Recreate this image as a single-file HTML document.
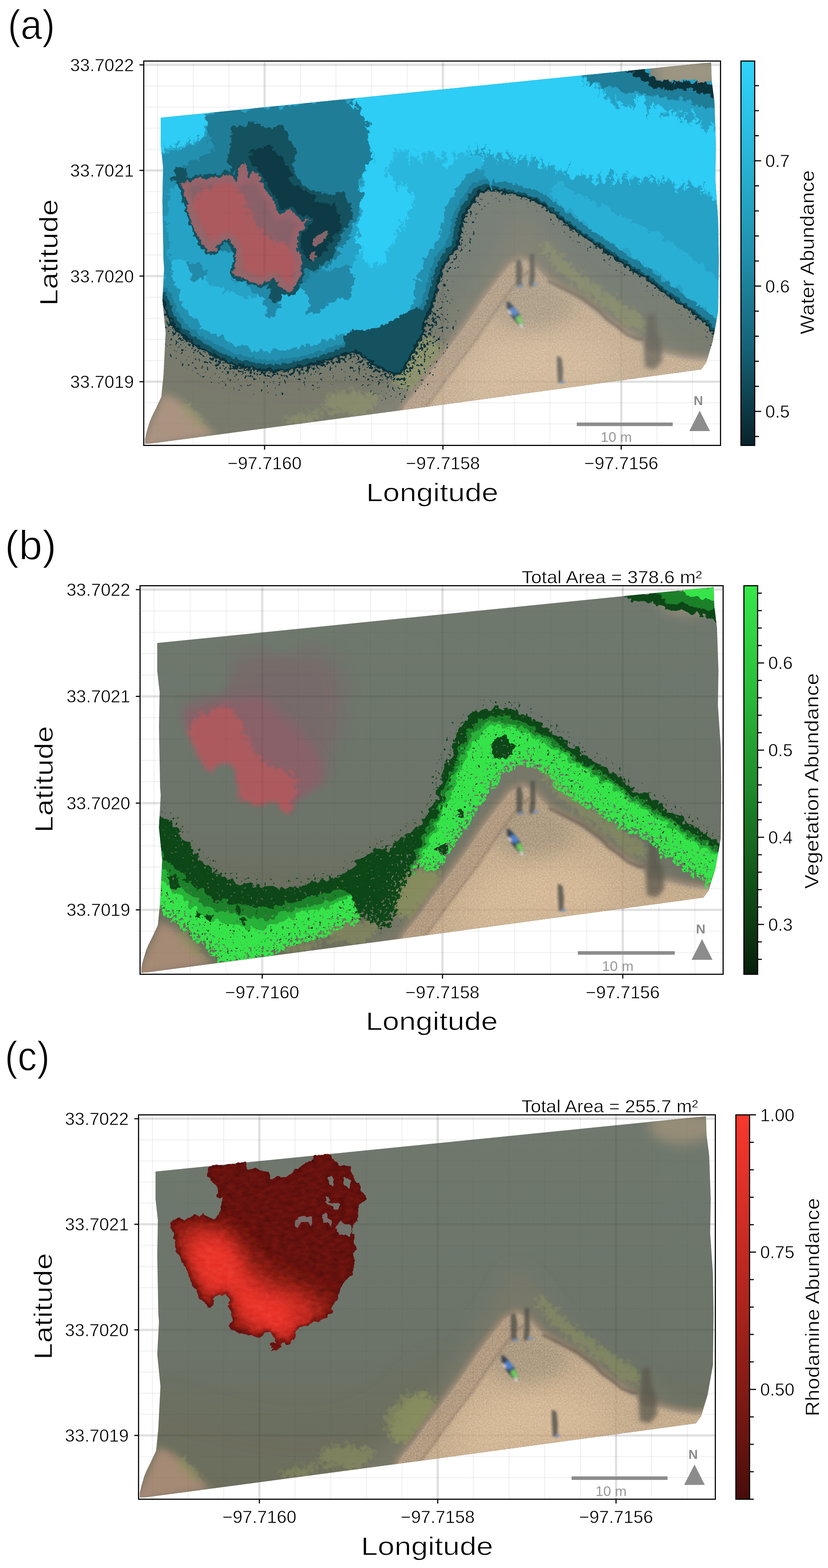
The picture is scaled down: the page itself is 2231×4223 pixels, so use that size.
<!DOCTYPE html>
<html lang="en"><head><meta charset="utf-8"><title>Abundance maps</title>
<style>html,body{margin:0;padding:0;background:#fff}svg{display:block}text{font-family:'Liberation Sans', 'DejaVu Sans', sans-serif}</style></head><body>
<svg width="2231" height="4223" viewBox="0 0 2231 4223" role="img" aria-label="Water, vegetation and rhodamine abundance maps">
<defs>
<clipPath id="axclip"><rect x="0" y="0" width="1554.1" height="1035.2"/></clipPath>
<clipPath id="sandclip"><path d="M1018.4 533.5L1041.9 542.4L1065.4 565.9L1088.9 589.4L1124.2 612.9L1159.4 630.5L1194.7 654L1224.1 677.5L1253.5 701.1L1288.7 724.6L1324 748.1L1347.5 759.8L1359.3 780.4L1406.3 786.3L1453.3 798L1500.4 803.9L1535.6 801L1535.6 865.6L712.7 983.2L683 977.9L705.1 926.4L741.8 882.3L778.5 830.9L822.6 772.1L866.7 713.3L910.8 647.2L954.9 588.4L987.9 548L989 549.4L1003.7 539.4Z"/></clipPath>
<clipPath id="foot"><path d="M45.7 152.6L1528.7 3.6L1530.4 53.3L1537.7 110.6L1541.7 226.3L1540.2 318.6L1547.7 428.2L1549.4 535.6L1547.7 673.6L1533.3 754.4L1515.7 811.6L1501.7 830.6L777.7 929.2L327.2 989.2L21.7 1029.6L3.4 1031L3.4 1018L8.5 997L16 972L22 957.6L33 935.6L47.5 904.3L53.3 846.6L59 731.3L50.4 644.6L55 558.3L53.3 535.6L50.4 376.3L52.1 284L45.7 226.3Z"/></clipPath>
<filter id="b3" x="-50%" y="-50%" width="200%" height="200%"><feGaussianBlur stdDeviation="3"/></filter>
<filter id="b6" x="-50%" y="-50%" width="200%" height="200%"><feGaussianBlur stdDeviation="6"/></filter>
<filter id="b10" x="-50%" y="-50%" width="200%" height="200%"><feGaussianBlur stdDeviation="10"/></filter>
<filter id="b16" x="-50%" y="-50%" width="200%" height="200%"><feGaussianBlur stdDeviation="16"/></filter>
<filter id="b25" x="-50%" y="-50%" width="200%" height="200%"><feGaussianBlur stdDeviation="25"/></filter>
<filter id="b40" x="-50%" y="-50%" width="200%" height="200%"><feGaussianBlur stdDeviation="40"/></filter>
<filter id="b60" x="-50%" y="-50%" width="200%" height="200%"><feGaussianBlur stdDeviation="60"/></filter>
<filter id="speckA" filterUnits="userSpaceOnUse" x="0" y="0" width="1554" height="1035" color-interpolation-filters="sRGB"><feTurbulence type="fractalNoise" baseFrequency="0.13" numOctaves="3" seed="4" result="t"/><feColorMatrix in="t" type="matrix" values="0 0 0 0 0 0 0 0 0 0 0 0 0 0 0 1 0 0 0 0" result="n"/><feComposite in="n" in2="SourceGraphic" operator="arithmetic" k1="0" k2="40" k3="14" k4="-35.3" result="m"/><feComponentTransfer in="SourceAlpha" result="sa"><feFuncA type="linear" slope="60" intercept="0"/></feComponentTransfer><feFlood flood-color="#0b333c" result="fl"/><feComposite in="fl" in2="m" operator="in" result="fm"/><feComposite in="fm" in2="sa" operator="in"/></filter>
<filter id="speckK" filterUnits="userSpaceOnUse" x="0" y="0" width="1554" height="1035" color-interpolation-filters="sRGB"><feTurbulence type="fractalNoise" baseFrequency="0.13" numOctaves="3" seed="8" result="t"/><feColorMatrix in="t" type="matrix" values="0 0 0 0 0 0 0 0 0 0 0 0 0 0 0 1 0 0 0 0" result="n"/><feComposite in="n" in2="SourceGraphic" operator="arithmetic" k1="0" k2="40" k3="14" k4="-35.3" result="m"/><feComponentTransfer in="SourceAlpha" result="sa"><feFuncA type="linear" slope="60" intercept="0"/></feComponentTransfer><feFlood flood-color="#000" result="fl"/><feComposite in="fl" in2="m" operator="in" result="fm"/><feComposite in="fm" in2="sa" operator="in"/></filter>
<filter id="speckG" filterUnits="userSpaceOnUse" x="0" y="0" width="1554" height="1035" color-interpolation-filters="sRGB"><feTurbulence type="fractalNoise" baseFrequency="0.13" numOctaves="3" seed="12" result="t"/><feColorMatrix in="t" type="matrix" values="0 0 0 0 0 0 0 0 0 0 0 0 0 0 0 1 0 0 0 0" result="n"/><feComposite in="n" in2="SourceGraphic" operator="arithmetic" k1="0" k2="40" k3="14" k4="-35.3" result="m"/><feComponentTransfer in="SourceAlpha" result="sa"><feFuncA type="linear" slope="60" intercept="0"/></feComponentTransfer><feFlood flood-color="#0d4717" result="fl"/><feComposite in="fl" in2="m" operator="in" result="fm"/><feComposite in="fm" in2="sa" operator="in"/></filter>
<filter id="rag" filterUnits="userSpaceOnUse" x="0" y="0" width="1554" height="1035" color-interpolation-filters="sRGB"><feTurbulence type="fractalNoise" baseFrequency="0.035" numOctaves="3" seed="3" result="n"/><feDisplacementMap in="SourceGraphic" in2="n" scale="36" xChannelSelector="R" yChannelSelector="G"/></filter>
<filter id="ragf" filterUnits="userSpaceOnUse" x="0" y="0" width="1554" height="1035" color-interpolation-filters="sRGB"><feTurbulence type="fractalNoise" baseFrequency="0.09" numOctaves="3" seed="7" result="n"/><feDisplacementMap in="SourceGraphic" in2="n" scale="16" xChannelSelector="R" yChannelSelector="G"/></filter>
<filter id="ragb" filterUnits="userSpaceOnUse" x="0" y="0" width="1554" height="1035" color-interpolation-filters="sRGB"><feTurbulence type="fractalNoise" baseFrequency="0.05" numOctaves="3" seed="11" result="n"/><feDisplacementMap in="SourceGraphic" in2="n" scale="30" xChannelSelector="R" yChannelSelector="G"/></filter>
<filter id="ragc" x="-15%" y="-15%" width="130%" height="130%" color-interpolation-filters="sRGB"><feTurbulence type="fractalNoise" baseFrequency="0.06" numOctaves="3" seed="17" result="n"/><feDisplacementMap in="SourceGraphic" in2="n" scale="14" xChannelSelector="R" yChannelSelector="G" result="d"/><feTurbulence type="fractalNoise" baseFrequency="0.05 0.09" numOctaves="3" seed="9" result="g0"/><feColorMatrix in="g0" type="matrix" values="1 0 0 0 0 1 0 0 0 0 1 0 0 0 0 0 0 0 0 1" result="g1"/><feComponentTransfer in="g1" result="g2"><feFuncR type="linear" slope="0.24" intercept="0.38"/><feFuncG type="linear" slope="0.24" intercept="0.38"/><feFuncB type="linear" slope="0.24" intercept="0.38"/></feComponentTransfer><feBlend in="g2" in2="d" mode="overlay" result="g3"/><feComposite in="g3" in2="d" operator="in"/></filter>
<filter id="ragveg" x="-30%" y="-30%" width="160%" height="160%" color-interpolation-filters="sRGB"><feTurbulence type="fractalNoise" baseFrequency="0.07" numOctaves="3" seed="23" result="n"/><feDisplacementMap in="SourceGraphic" in2="n" scale="45" xChannelSelector="R" yChannelSelector="G"/></filter>
<filter id="sandgrain" x="-3%" y="-3%" width="106%" height="106%" color-interpolation-filters="sRGB"><feOffset in="SourceGraphic" dx="0" dy="0" result="d"/><feTurbulence type="fractalNoise" baseFrequency="0.25" numOctaves="2" seed="31" result="g0"/><feColorMatrix in="g0" type="matrix" values="1 0 0 0 0 1 0 0 0 0 1 0 0 0 0 0 0 0 0 1" result="g1"/><feComponentTransfer in="g1" result="g2"><feFuncR type="linear" slope="0.3" intercept="0.35"/><feFuncG type="linear" slope="0.3" intercept="0.35"/><feFuncB type="linear" slope="0.3" intercept="0.35"/></feComponentTransfer><feBlend in="g2" in2="d" mode="overlay" result="g3"/><feComposite in="g3" in2="d" operator="in"/></filter>
<linearGradient id="waterg" x1="0" y1="0" x2="0" y2="1"><stop offset="0" stop-color="#485346"/><stop offset="0.55" stop-color="#444e41"/><stop offset="1" stop-color="#41432a"/></linearGradient>
<clipPath id="landclip"><path d="M32.7 625.6L49.7 649.6L59.7 683.6L74.7 710.6L97.7 737.6L127.7 760.6L158.7 779.6L192.7 798.6L232.7 818.6L270.7 826.6L308.7 834.6L347.7 837.6L385.7 834.6L423.7 826.6L461.7 818.6L499.7 807.6L538.7 792.6L568.7 785.6L602.7 807.6L632.7 827.6L662.7 843.6L684.7 847.6L702.7 830.6L717.7 805.6L732.7 775.6L752.7 740.6L759.7 701.6L777.7 665.6L789.7 625.6L800.7 579.6L812.7 548.6L827.7 525.6L846.7 502.6L854.7 472.6L858.7 441.6L869.7 407.6L888.7 380.6L904.7 355.6L934.7 348.6L972.7 355.6L1010.7 363.6L1049.7 376.6L1072.7 388.6L1100.7 410.6L1147.7 447.6L1182.7 473.6L1217.7 497.6L1253.7 521.6L1288.7 545.6L1323.7 568.6L1359.7 592.6L1394.7 620.6L1429.7 645.6L1464.7 669.6L1494.7 693.6L1515.7 708.6L1538.7 742.6L1557.7 760.6L1580 770L1580 1100L-20 1100L-20 640Z"/><path d="M1352.7 -4.4L1359.7 18.6L1365.7 35.6L1388.7 50.6L1423.7 53.6L1469.7 50.6L1504.7 58.6L1527.7 53.6L1542.7 50.6L1542.7 -4.4Z"/></clipPath><filter id="streak" filterUnits="userSpaceOnUse" x="0" y="0" width="1554" height="1035" color-interpolation-filters="sRGB"><feTurbulence type="fractalNoise" baseFrequency="0.12 0.004" numOctaves="3" seed="14" result="n"/><feColorMatrix in="n" type="matrix" values="0 0 0 0 0.5 0 1 0 0 0 0 0 1 0 0 0 0 0 0 1" result="n2"/><feDisplacementMap in="SourceGraphic" in2="n2" scale="90" xChannelSelector="R" yChannelSelector="G"/></filter><mask id="holemask_a" maskUnits="userSpaceOnUse" x="0" y="0" width="1554.1" height="1035.2"><path d="M32.7 625.6L49.7 649.6L59.7 683.6L74.7 710.6L97.7 737.6L127.7 760.6L158.7 779.6L192.7 798.6L232.7 818.6L270.7 826.6L308.7 834.6L347.7 837.6L385.7 834.6L423.7 826.6L461.7 818.6L499.7 807.6L538.7 792.6L568.7 785.6L602.7 807.6L632.7 827.6L662.7 843.6L684.7 847.6L702.7 830.6L717.7 805.6L732.7 775.6L752.7 740.6L759.7 701.6L777.7 665.6L789.7 625.6L800.7 579.6L812.7 548.6L827.7 525.6L846.7 502.6L854.7 472.6L858.7 441.6L869.7 407.6L888.7 380.6L904.7 355.6L934.7 348.6L972.7 355.6L1010.7 363.6L1049.7 376.6L1072.7 388.6L1100.7 410.6L1147.7 447.6L1182.7 473.6L1217.7 497.6L1253.7 521.6L1288.7 545.6L1323.7 568.6L1359.7 592.6L1394.7 620.6L1429.7 645.6L1464.7 669.6L1494.7 693.6L1515.7 708.6L1538.7 742.6L1557.7 760.6L1572.7 760.6L1572.7 -14.4L-7.3 -14.4L-7.3 625.6Z" fill="#fff"/><path d="M99.6 327.6L133.9 320L147.3 314.3L166.4 316.2L185.5 312.4L204.6 314.3L219.9 304.7L231.4 306.6L240.9 314.3L252.4 323.8L254.3 287.5L261.9 283.7L271.5 270.3L277.2 283.7L281 314.3L296.3 289.4L300.2 306.6L309.7 304.7L313.5 321.9L325 329.6L326.9 344.8L334.5 356.3L346 367.8L353.6 379.2L357.5 398.3L365.1 413.6L376.6 409.8L391.8 400.2L401.4 402.2L409 417.4L418.6 421.3L430.1 432.7L437.7 425.1L449.2 427L433.9 440.4L430.1 455.6L422.4 458.5L414.8 473.8L414.8 492.9L411 512L418.6 515.8L426.2 523.5L426.2 542.6L422.4 557.9L424.3 573.1L418.6 588.4L411 603.7L403.3 619L391.8 624.7L380.4 619L368.9 607.5L357.5 596.1L349.8 586.5L342.2 588.4L326.9 596.1L313.5 601.8L296.3 596.1L277.2 588.4L258.1 584.6L244.7 577L240.9 565.5L246.7 550.2L248.6 531.1L248.6 508.2L240.9 496.7L231.4 485.3L223.7 477.6L212.3 485.3L198.9 492.9L197 510.1L185.5 513.9L174.1 512L164.5 502.5L155 489.1L145.4 470L137.8 454.7L130.1 435.6L124.4 417.4L118.7 398.3L114.8 375.4L107.2 352.5Z" fill="#000"/><path d="M1352.7 -4.4L1359.7 18.6L1365.7 35.6L1388.7 50.6L1423.7 53.6L1469.7 50.6L1504.7 58.6L1527.7 53.6L1542.7 50.6L1542.7 -4.4Z" fill="#000"/><path d="M454.9 483.4L468.3 471.9L485.5 458.5L496.9 464.3L487.4 481.4L472.1 496.7L458.7 500.6Z" fill="#000"/><path d="M447.2 517.7L460.6 512L466.4 527.3L453 538.8L445.3 531.1Z" fill="#000"/></mask>
<mask id="bmask" maskUnits="userSpaceOnUse" x="0" y="0" width="1554.1" height="1035.2"><rect width="1554.1" height="1035.2" fill="#fff"/><g filter="url(#speckK)" stroke="#000" stroke-linejoin="round"><path d="M34.5 599.5L51.9 611.1L75.2 622.7L104.3 657.6L127.5 692.5L156.6 721.6L185.7 750.7L220.6 773.9L261.3 791.4L302 800.1L348.5 803L395 805.9L441.5 797.2L488 785.5L534.6 773.9L569.4 744.8L592.7 727.4L627.6 698.3L656.7 704.1L685.7 686.7L714.8 663.4L749.7 634.4L767.1 599.5L791 576L799.2 522.5L810.8 487.6L828.2 452.8L839.9 412.1L851.5 377.2L880.6 342.3L915.5 327.7L962 324.8L1008.5 336.5L1043.4 353.9L1078.3 377.2L1113.1 400.4L1148 423.7L1182.9 452.8L1217.8 470.2L1252.7 493.5L1287.6 516.7L1322.5 545.8L1357.4 563.2L1392.3 586.5L1427.1 609.8L1462 633L1496.9 656.3L1526 673.7L1566.7 697L1566.7 784.2L1514.4 801.6L1485.3 784.2L1450.4 760.9L1421.3 737.7L1392.3 720.2L1369 691.2L1345.7 673.7L1310.8 662.1L1276 644.6L1241.1 621.4L1206.2 598.1L1171.3 580.7L1142.2 563.2L1113.1 540L1089.9 510.9L1072.4 493.5L1043.4 481.8L1014.3 478.9L985.2 490.6L962 510.9L938.7 545.8L915.5 574.9L892.2 609.8L868.9 644.6L845.7 679.5L822.4 714.4L799.2 749.3L791 760.9L767.1 756.5L738.1 750.7L714.8 779.7L697.4 820.4L685.7 867L668.3 907.7L639.2 913.5L610.1 890.2L592.7 884.4L581.1 896L546.2 907.7L511.3 919.3L488 936.7L453.1 948.4L406.6 960L371.7 977.4L348.5 994.9L220.6 1018.1L185.7 977.4L150.8 948.4L115.9 919.3L81 890.2L51.9 867L34.5 855.3Z" fill="#000" fill-opacity="0.45" stroke="none"/><path d="M1566.7 784.2L1514.4 801.6L1485.3 784.2L1450.4 760.9L1421.3 737.7L1392.3 720.2L1369 691.2L1345.7 673.7L1310.8 662.1L1276 644.6L1241.1 621.4L1206.2 598.1L1171.3 580.7L1142.2 563.2L1113.1 540L1089.9 510.9L1072.4 493.5L1043.4 481.8L1014.3 478.9L985.2 490.6L962 510.9L938.7 545.8L915.5 574.9L892.2 609.8L868.9 644.6L845.7 679.5L822.4 714.4L799.2 749.3L791 760.9L767.1 756.5L738.1 750.7L714.8 779.7L697.4 820.4L685.7 867L668.3 907.7L639.2 913.5L610.1 890.2L592.7 884.4L581.1 896L546.2 907.7L511.3 919.3L488 936.7L453.1 948.4L406.6 960L371.7 977.4L348.5 994.9L220.6 1018.1L185.7 977.4L150.8 948.4L115.9 919.3L81 890.2L51.9 867L34.5 855.3" fill="none" stroke-opacity="0.39" stroke-width="90"/><path d="M1566.7 784.2L1514.4 801.6L1485.3 784.2L1450.4 760.9L1421.3 737.7L1392.3 720.2L1369 691.2L1345.7 673.7L1310.8 662.1L1276 644.6L1241.1 621.4L1206.2 598.1L1171.3 580.7L1142.2 563.2L1113.1 540L1089.9 510.9L1072.4 493.5L1043.4 481.8L1014.3 478.9L985.2 490.6L962 510.9L938.7 545.8L915.5 574.9L892.2 609.8L868.9 644.6L845.7 679.5L822.4 714.4L799.2 749.3L791 760.9L767.1 756.5L738.1 750.7L714.8 779.7L697.4 820.4L685.7 867L668.3 907.7L639.2 913.5L610.1 890.2L592.7 884.4L581.1 896L546.2 907.7L511.3 919.3L488 936.7L453.1 948.4L406.6 960L371.7 977.4L348.5 994.9L220.6 1018.1L185.7 977.4L150.8 948.4L115.9 919.3L81 890.2L51.9 867L34.5 855.3" fill="none" stroke-width="34"/></g></mask>
<clipPath id="plumeclip"><path d="M105.8 377.4L99.6 365.4L97.6 344.9L93.4 320.2L85.2 303.7L89.3 285.2L107.8 279L124.3 281.1L140.8 270.8L153.1 268.7L165.5 274.9L175.7 264.6L186 279L206.6 281.1L210.7 270.8L221 262.6L225.1 242L227.2 223.5L210.7 219.4L212.8 200.8L206.6 190.6L194.3 176.2L184 163.8L188.1 139.1L288.9 128.8L295.1 145.3L313.6 139.1L330 149.4L350.6 153.5L356.8 172L379.4 165.9L395.9 170L420.6 147.3L437 137.1L467.9 120.6L472 110.3L498.7 106.2L519.3 106.2L523.4 118.5L535.8 124.7L539.9 135L566.6 139.1L576.9 157.6L583.1 176.2L593.4 188.5L599.5 205L613.9 223.5L605.7 235.8L595.4 242L589.3 258.4L593.4 274.9L581 291.4L579 316L581 340.7L585.1 361.3L581 373.9L581 390.3L579 410.9L576.9 427.3L566.6 439.7L556.3 452L544 468.5L539.9 485L533.7 501.4L523.4 517.9L519.3 534.3L502.8 546.7L486.4 554.9L469.9 557L453.5 567.2L432.9 575.5L420.6 587.8L418.5 608.4L408.2 618.7L395.9 620.7L385.6 614.6L381.5 626.9L367.1 633.1L354.7 639.3L363 626.9L354.7 620.7L358.8 614.6L373.2 612.5L363 596L354.7 583.7L338.3 589.9L323.9 602.2L313.6 596L293 594L280.7 585.8L260.1 583.7L245.7 575.5L243.6 563.1L253.9 550.8L249.8 530.2L241.6 513.8L245.7 497.3L235.4 482.9L218.9 482.9L202.5 493.2L202.5 509.6L192.2 519.9L179.9 509.6L167.5 497.3L155.2 476.7L142.8 452L132.5 427.3L120.2 402.7L107.8 382.1ZM421.4 283.1L437 277L465.8 274.1L467.9 283.1L465 301.6L457.6 287.2L439.1 289.3L428.8 302.9L421.4 295.5ZM494.6 270.8L504.9 264.6L509 279L519.3 283.1L521.4 301.6L509 291.4L498.7 291.4ZM527.5 305.8L544 287.2L554.3 295.5L574.9 297.5L576.9 316L566.6 328.4L548.1 324.3L539.9 318.1ZM502.8 219.4L511.1 221.4L517.3 237.9L531.7 235.8L544 239.9L539.9 258.4L527.5 256.4L519.3 246.1L509 233.8ZM511.1 174.1L519.3 161.7L527.5 176.2L523.4 192.6L513.1 190.6ZM552.2 170L570.7 174.1L570.7 200.8L562.5 194.7L552.2 184.4Z" clip-rule="evenodd"/></clipPath><mask id="plumemask" maskUnits="userSpaceOnUse" x="0" y="0" width="1554.1" height="1035.2"><path d="M105.8 377.4L99.6 365.4L97.6 344.9L93.4 320.2L85.2 303.7L89.3 285.2L107.8 279L124.3 281.1L140.8 270.8L153.1 268.7L165.5 274.9L175.7 264.6L186 279L206.6 281.1L210.7 270.8L221 262.6L225.1 242L227.2 223.5L210.7 219.4L212.8 200.8L206.6 190.6L194.3 176.2L184 163.8L188.1 139.1L288.9 128.8L295.1 145.3L313.6 139.1L330 149.4L350.6 153.5L356.8 172L379.4 165.9L395.9 170L420.6 147.3L437 137.1L467.9 120.6L472 110.3L498.7 106.2L519.3 106.2L523.4 118.5L535.8 124.7L539.9 135L566.6 139.1L576.9 157.6L583.1 176.2L593.4 188.5L599.5 205L613.9 223.5L605.7 235.8L595.4 242L589.3 258.4L593.4 274.9L581 291.4L579 316L581 340.7L585.1 361.3L581 373.9L581 390.3L579 410.9L576.9 427.3L566.6 439.7L556.3 452L544 468.5L539.9 485L533.7 501.4L523.4 517.9L519.3 534.3L502.8 546.7L486.4 554.9L469.9 557L453.5 567.2L432.9 575.5L420.6 587.8L418.5 608.4L408.2 618.7L395.9 620.7L385.6 614.6L381.5 626.9L367.1 633.1L354.7 639.3L363 626.9L354.7 620.7L358.8 614.6L373.2 612.5L363 596L354.7 583.7L338.3 589.9L323.9 602.2L313.6 596L293 594L280.7 585.8L260.1 583.7L245.7 575.5L243.6 563.1L253.9 550.8L249.8 530.2L241.6 513.8L245.7 497.3L235.4 482.9L218.9 482.9L202.5 493.2L202.5 509.6L192.2 519.9L179.9 509.6L167.5 497.3L155.2 476.7L142.8 452L132.5 427.3L120.2 402.7L107.8 382.1Z" fill="#fff" stroke="#000" stroke-width="26" stroke-linejoin="round" filter="url(#b6)"/></mask>
<g id="base"><g clip-path="url(#foot)"><rect x="0" y="0" width="1554.1" height="1035.2" fill="url(#waterg)"/><ellipse cx="1465" cy="30" rx="90" ry="48" fill="#786d51" filter="url(#b16)"/><g mask="url(#plumemask)"><path d="M127.5 334C136.2 317.5 174 306.8 191.5 293.3C208.9 279.7 221.5 268.1 232.2 252.6C242.9 237.1 239.9 212.8 255.4 200.2C271 187.6 300 179.9 325.2 177C350.4 174.1 381.4 182.8 406.6 182.8C431.8 182.8 457 171.2 476.4 177C495.8 182.8 512.3 199.3 522.9 217.7C533.6 236.1 538.4 263.2 540.4 287.5C542.3 311.7 539.4 337.9 534.6 363.1C529.7 388.3 521 416.4 511.3 438.6C501.6 460.9 490 477.4 476.4 496.8C462.8 516.2 446.4 541.4 429.9 554.9C413.4 568.5 402.8 580.1 377.6 578.2C352.4 576.3 312.6 562.7 278.7 543.3C244.8 523.9 197.3 487.1 174 461.9C150.8 436.7 146.9 413.4 139.2 392.1C131.4 370.8 118.8 350.5 127.5 334Z" fill="#563c40" opacity="0.75" filter="url(#b25)"/><path d="M115.9 334C119.8 318.5 142.1 326.2 156.6 322.4C171.1 318.5 187.6 313.6 203.1 310.7C218.6 307.8 233.2 307.8 249.6 304.9C266.1 302 287.4 293.3 302 293.3C316.5 293.3 325.2 297.2 336.9 304.9C348.5 312.7 358.2 327.2 371.7 339.8C385.3 352.4 403.7 366 418.3 380.5C432.8 395 447.3 411.5 459 427C470.6 442.5 482.2 460 488 473.5C493.8 487.1 495.8 498.7 493.8 508.4C491.9 518.1 483.2 523.9 476.4 531.7C469.6 539.4 461.9 545.2 453.1 554.9C444.4 564.6 433.8 581.1 424.1 589.8C414.4 598.5 407.6 608.2 395 607.3C382.4 606.3 365.9 589.8 348.5 584C331 578.2 305.8 578.2 290.3 572.4C274.8 566.6 263.2 559.8 255.4 549.1C247.7 538.5 253.5 516.2 243.8 508.4C234.1 500.7 210.9 509.4 197.3 502.6C183.7 495.8 173.1 482.3 162.4 467.7C151.8 453.2 141.1 437.7 133.3 415.4C125.6 393.1 112 349.5 115.9 334Z" fill="#6c3640" opacity="0.9" filter="url(#b16)"/><g filter="url(#ragveg)"><path d="M121.7 409.6C119.8 397 128.5 384.4 133.3 374.7C138.2 365 141.1 358.2 150.8 351.4C160.5 344.6 177.9 339.8 191.5 334C205.1 328.2 221.5 314.6 232.2 316.5C242.9 318.5 247.7 334.9 255.4 345.6C263.2 356.3 272.9 368.9 278.7 380.5C284.5 392.1 284.5 403.8 290.3 415.4C296.2 427 304.9 439.6 313.6 450.3C322.3 460.9 332 472.6 342.7 479.3C353.3 486.1 366.9 486.1 377.6 491C388.2 495.8 399.8 499.7 406.6 508.4C413.4 517.1 418.3 531.7 418.3 543.3C418.3 554.9 409.5 565.6 406.6 578.2C403.7 590.8 405.7 615 400.8 618.9C396 622.8 386.3 607.3 377.6 601.5C368.8 595.6 359.1 585 348.5 584C337.8 583 325.2 596.6 313.6 595.6C302 594.7 289.4 584 278.7 578.2C268 572.4 254.5 570.4 249.6 560.8C244.8 551.1 252.5 533.6 249.6 520C246.7 506.5 240.9 482.3 232.2 479.3C223.5 476.4 208 501.6 197.3 502.6C186.6 503.6 177 493.9 168.2 485.2C159.5 476.4 152.7 462.9 145 450.3C137.2 437.7 123.7 422.2 121.7 409.6Z" fill="#9a2e32" opacity="0.95" filter="url(#b6)"/></g></g><path d="M32 790.1C61.4 748.9 120.1 803.8 173 813.6C225.9 823.4 290.6 843 349.4 848.9C408.2 854.7 471.8 858.7 525.7 848.9C579.6 839.1 633.5 814.6 672.7 790.1C711.9 765.6 736.4 721.5 760.8 701.9C785.3 682.3 809.8 628.4 819.6 672.5C829.4 716.6 956.8 901.8 819.6 966.4C682.5 1031.1 128 1089.9 -3.3 1060.5C-134.6 1031.1 2.6 831.2 32 790.1Z" fill="#454632" opacity="0.9" filter="url(#b40)"/><path d="M1024.2 418.9C1038.9 422.8 1060.5 447.3 1077.1 465.9C1093.8 484.6 1106.5 510 1124.2 530.6C1141.8 551.2 1163.3 570.8 1182.9 589.4C1202.5 608 1222.1 627.6 1241.7 642.3C1261.3 657 1280.9 665.8 1300.5 677.5C1320.1 689.3 1339.7 699.1 1359.3 712.8C1378.9 726.5 1398.5 746.1 1418.1 759.8C1437.7 773.6 1457.3 787.3 1476.8 795.1C1496.4 802.9 1525.8 795.1 1535.6 806.9C1545.4 818.6 1672.8 836.3 1535.6 865.6C1398.5 895 874.3 959.7 712.7 983.2C551.1 1006.7 580.4 1016.5 565.7 1006.7C551.1 996.9 600 949.9 624.5 924.4C649 899 688.2 877.4 712.7 853.9C737.2 830.4 751.9 808.8 771.5 783.4C791.1 757.9 812.6 726.5 830.3 701.1C847.9 675.6 862.6 654 877.3 630.5C892 607 904.7 581.5 918.4 560C932.1 538.4 947.8 520.8 959.6 501.2C971.3 481.6 978.2 456.1 989 442.4C999.7 428.7 1009.5 415 1024.2 418.9Z" fill="#525240" filter="url(#b25)"/><path d="M-15.1 1048.7L32 942.9L52.5 895.9L84.9 907.6L114.3 931.2L143.7 960.5L173 989.9L196.6 1007.6L55.5 1031.1Z" fill="#8c694f" filter="url(#b10)"/><g filter="url(#ragveg)"><path d="M1083 483.6C1089.9 485.5 1099.7 500.2 1112.4 513C1125.1 525.7 1141.8 545.3 1159.4 560C1177.1 574.7 1198.6 587.4 1218.2 601.1C1237.8 614.8 1257.4 628.6 1277 642.3C1296.6 656 1323 671.7 1335.8 683.4C1348.5 695.2 1355.4 706 1353.4 712.8C1351.4 719.7 1336.8 728.5 1324 724.6C1311.3 720.7 1292.7 701.1 1277 689.3C1261.3 677.5 1245.6 665.8 1230 654C1214.3 642.3 1198.6 631.5 1182.9 618.8C1167.3 606 1150.6 591.3 1135.9 577.6C1121.2 563.9 1105.5 549.2 1094.8 536.5C1084 523.7 1073.2 510 1071.3 501.2C1069.3 492.4 1076.2 481.6 1083 483.6Z" fill="#6f7833" opacity="0.5" filter="url(#b6)"/></g><g filter="url(#ragveg)"><path d="M712.7 759.8C726.4 750 735.2 749.1 748 748.1C760.7 747.1 780.3 749.1 789.1 754C797.9 758.9 802.8 766.7 800.9 777.5C798.9 788.2 787.2 804.9 777.4 818.6C767.6 832.3 752.9 849 742.1 859.8C731.3 870.5 723.5 882.3 712.7 883.3C701.9 884.3 685.3 878.4 677.4 865.6C669.6 852.9 659.8 824.5 665.7 806.9C671.6 789.2 699 769.6 712.7 759.8Z" fill="#6f7833" opacity="0.5" filter="url(#b6)"/></g><g filter="url(#ragveg)"><path d="M684.4 848.9C684.4 832.2 693.2 804.8 702.1 790.1C710.9 775.4 723.6 766.6 737.3 760.7C751 754.8 774.5 749.9 784.4 754.8C794.3 759.7 800.6 776.4 796.7 790.1C792.8 803.8 772.7 821.4 760.8 837.1C749 852.8 735.4 875.3 725.6 884.1C715.8 892.9 708.9 895.9 702.1 890C695.2 884.1 684.4 865.5 684.4 848.9Z" fill="#6f7833" opacity="0.5" filter="url(#b6)"/></g><g filter="url(#ragveg)"><path d="M496.3 901.8C504.2 893.9 522.8 891.5 537.5 890C552.2 888.5 568.8 891 584.5 892.9C600.2 894.9 625.6 894.4 631.5 901.8C637.4 909.1 629.6 928.2 619.8 937C610 945.8 588.4 952.7 572.7 954.7C557.1 956.6 539.4 951.7 525.7 948.8C512 945.8 495.4 944.9 490.5 937C485.6 929.2 488.5 909.6 496.3 901.8Z" fill="#6f7833" opacity="0.5" filter="url(#b6)"/></g><g filter="url(#ragveg)"><path d="M372.9 960.5C372.9 956.6 396.4 956.6 408.2 954.7C419.9 952.7 431.7 950.7 443.4 948.8C455.2 946.8 474.8 940 478.7 942.9C482.6 945.8 478.7 960.5 466.9 966.4C455.2 972.3 423.8 979.2 408.2 978.2C392.5 977.2 372.9 964.5 372.9 960.5Z" fill="#6f7833" opacity="0.5" filter="url(#b6)"/></g><g filter="url(#ragveg)"><path d="M96.6 919.4C98.6 915.5 111.3 919.4 120.1 925.3C129 931.2 140.7 944.9 149.5 954.7C158.3 964.5 171.1 977.2 173 984.1C175 990.9 168.1 997.8 161.3 995.8C154.4 993.9 140.7 980.1 131.9 972.3C123.1 964.5 114.3 957.6 108.4 948.8C102.5 940 94.7 923.3 96.6 919.4Z" fill="#6f7833" opacity="0.5" filter="url(#b6)"/></g><path d="M1018.4 533.5L1041.9 542.4L1065.4 565.9L1088.9 589.4L1124.2 612.9L1159.4 630.5L1194.7 654L1224.1 677.5L1253.5 701.1L1288.7 724.6L1324 748.1L1347.5 759.8L1359.3 780.4L1406.3 786.3L1453.3 798L1500.4 803.9L1535.6 801L1535.6 865.6L712.7 983.2L683 977.9L705.1 926.4L741.8 882.3L778.5 830.9L822.6 772.1L866.7 713.3L910.8 647.2L954.9 588.4L987.9 548L989 549.4L1003.7 539.4Z" fill="#766143" stroke="#766143" stroke-width="24" stroke-linejoin="round" filter="url(#b6)"/><g filter="url(#sandgrain)"><path d="M1018.4 533.5L1041.9 542.4L1065.4 565.9L1088.9 589.4L1124.2 612.9L1159.4 630.5L1194.7 654L1224.1 677.5L1253.5 701.1L1288.7 724.6L1324 748.1L1347.5 759.8L1359.3 780.4L1406.3 786.3L1453.3 798L1500.4 803.9L1535.6 801L1535.6 865.6L712.7 983.2L683 977.9L705.1 926.4L741.8 882.3L778.5 830.9L822.6 772.1L866.7 713.3L910.8 647.2L954.9 588.4L987.9 548L989 549.4L1003.7 539.4Z" fill="#b6976f" filter="url(#b6)"/><g clip-path="url(#sandclip)"><path d="M947.8 759.8C982.1 740.2 1026.2 726.5 1065.4 724.6C1104.6 722.6 1148.7 736.3 1182.9 748.1C1217.2 759.8 1261.3 775.5 1271.1 795.1C1280.9 814.7 1276 848 1241.7 865.6C1207.4 883.3 1124.2 891.1 1065.4 900.9C1006.6 910.7 923.3 934.2 889 924.4C854.8 914.6 849.9 869.6 859.7 842.1C869.4 814.7 913.5 779.4 947.8 759.8Z" fill="#caa77e" filter="url(#b40)"/><path d="M1018.4 533.5C1031.1 536.3 1047.7 552.6 1065.4 565.9C1083 579.1 1106.5 598.2 1124.2 612.9C1141.8 627.6 1171.2 639.3 1171.2 654C1171.2 668.7 1145.7 689.3 1124.2 701.1C1102.6 712.8 1068.3 724.6 1041.9 724.6C1015.4 724.6 983.1 713.8 965.5 701.1C947.8 688.3 937 666.8 936.1 648.2C935.1 629.5 950.8 605.8 959.6 589.4C968.4 572.9 979.2 558.7 989 549.4C998.8 540.1 1005.6 530.8 1018.4 533.5Z" fill="#927e5f" opacity="0.85" filter="url(#b25)"/></g><g clip-path="url(#sandclip)"><path d="M683 977.9L705.1 926.4L741.8 882.3L778.5 830.9L822.6 772.1L866.7 713.3L910.8 647.2L954.9 588.4L987.9 548L989 549.4L1003.7 539.4" fill="none" stroke="#9e8161" stroke-width="84" stroke-linejoin="round" filter="url(#b6)"/><path d="M683 977.9L705.1 926.4L741.8 882.3L778.5 830.9L822.6 772.1L866.7 713.3L910.8 647.2L954.9 588.4L987.9 548L989 549.4L1003.7 539.4" fill="none" stroke="#765c43" stroke-width="6" stroke-linejoin="round" transform="translate(36 26)" filter="url(#b3)" opacity="0.8"/></g></g><path d="M1088.9 592.3L1124.2 609.9L1147.7 621.7L1177.1 636.4L1206.5 657L1230 674.6L1247.6 695.2L1277 715.8L1300.5 736.3L1329.9 748.1L1344.6 748.1" fill="none" stroke="#402f1a" stroke-width="7" stroke-linejoin="round" opacity="0.7" filter="url(#b3)"/><path d="M1356.3 683.4L1376.9 680.5L1382.8 724.6L1394.6 754L1397.5 806.9L1376.9 830.4L1350.5 824.5L1347.5 771.6L1353.4 736.3Z" fill="#2d2b1f" opacity="0.75" filter="url(#b6)"/><path d="M1005.4 539.4L1013.7 535.3L1018.4 560L1015.4 589.4L1018.4 604.1L1006.6 605.8L1004.8 571.7Z" fill="#25251d" stroke="#25251d" stroke-width="4" stroke-linejoin="round" opacity="0.85" filter="url(#b3)"/><path d="M1041.9 521.8L1050.1 521.8L1052.5 571.7L1048.9 604.1L1039.5 605.8L1041.9 571.7Z" fill="#25251d" stroke="#25251d" stroke-width="4" stroke-linejoin="round" opacity="0.85" filter="url(#b3)"/><path d="M1115.3 796.3L1124.2 801L1127.7 830.4L1126.5 862.7L1118.3 864.5L1115.9 830.4Z" fill="#25251d" stroke="#25251d" stroke-width="4" stroke-linejoin="round" opacity="0.85" filter="url(#b3)"/><g filter="url(#b3)"><path d="M977.4 645.6L985.6 649.7L996.2 660.3L1005.6 672L1013.8 683.8L1019.7 697.9L1023.2 709.6L1022.6 719.1L1017.3 719.6L1011.5 712L1003.2 702.6L993.8 692L985.6 681.4L979.7 670.9L978 657.9Z" fill="#020f1a"/><path d="M1003.2 690.8L1012.6 686.1L1018.5 696.7L1022.6 709.6L1019.7 712L1012.6 707.3L1006.8 700.2Z" fill="#48c333"/><path d="M988 666.2L996.2 663.8L1004.4 670.9L1007.9 679.1L1003.2 683.8L995 685L989.1 677.9Z" fill="#1d5fc1"/><path d="M1012.6 709.6L1017.3 708.5L1022.6 716.7L1019.7 720.2L1015 716.7Z" fill="#eadadf"/><path d="M979.1 670.9L984.4 672L990.3 677.9L988 681.4L982.1 676.7Z" fill="#e2dcdf"/></g><ellipse cx="1014.4" cy="606.1" rx="7" ry="3.5" fill="#4677ca" filter="url(#b3)" opacity="0.9"/><ellipse cx="1054.9" cy="602.1" rx="7" ry="3.5" fill="#4677ca" filter="url(#b3)" opacity="0.9"/><ellipse cx="1128.5" cy="864.7" rx="7" ry="3.5" fill="#4677ca" filter="url(#b3)" opacity="0.9"/></g></g>
<linearGradient id="cba" x1="0" y1="0" x2="0" y2="1"><stop offset="0" stop-color="#30d3fb"/><stop offset="0.25" stop-color="#29b4d6"/><stop offset="0.5" stop-color="#2191ad"/><stop offset="0.75" stop-color="#166176"/><stop offset="1" stop-color="#08222a"/></linearGradient>
<linearGradient id="cbb" x1="0" y1="0" x2="0" y2="1"><stop offset="0" stop-color="#36e84a"/><stop offset="0.25" stop-color="#2bc03c"/><stop offset="0.5" stop-color="#1f8f2c"/><stop offset="0.75" stop-color="#12561a"/><stop offset="1" stop-color="#071f0a"/></linearGradient>
<linearGradient id="cbc" x1="0" y1="0" x2="0" y2="1"><stop offset="0" stop-color="#f9382d"/><stop offset="0.25" stop-color="#d42e25"/><stop offset="0.5" stop-color="#ab241c"/><stop offset="0.75" stop-color="#7c1913"/><stop offset="1" stop-color="#470d09"/></linearGradient>
</defs>
<rect width="2231" height="4223" fill="#fff"/>
<!-- panel a -->
<g transform="translate(387.3 164.4) scale(1.0)">
<g clip-path="url(#axclip)">
<g stroke="#000" stroke-opacity="0.06" stroke-width="2.6" fill="none"><path d="M37.3 0V1035.2"/><path d="M133.4 0V1035.2"/><path d="M229.5 0V1035.2"/><path d="M421.7 0V1035.2"/><path d="M517.8 0V1035.2"/><path d="M613.9 0V1035.2"/><path d="M710 0V1035.2"/><path d="M902.2 0V1035.2"/><path d="M998.3 0V1035.2"/><path d="M1094.4 0V1035.2"/><path d="M1190.5 0V1035.2"/><path d="M1382.7 0V1035.2"/><path d="M1478.8 0V1035.2"/><path d="M0 67.2H1554.1"/><path d="M0 124.1H1554.1"/><path d="M0 180.9H1554.1"/><path d="M0 237.8H1554.1"/><path d="M0 351.6H1554.1"/><path d="M0 408.5H1554.1"/><path d="M0 465.3H1554.1"/><path d="M0 522.2H1554.1"/><path d="M0 636H1554.1"/><path d="M0 692.9H1554.1"/><path d="M0 749.7H1554.1"/><path d="M0 806.6H1554.1"/><path d="M0 920.4H1554.1"/><path d="M0 977.3H1554.1"/><path d="M0 1034.1H1554.1"/></g><g stroke="#000" stroke-opacity="0.12" stroke-width="6" fill="none"><path d="M325.6 0V1035.2"/><path d="M806.1 0V1035.2"/><path d="M1286.6 0V1035.2"/><path d="M0 10.3H1554.1"/><path d="M0 294.7H1554.1"/><path d="M0 579.1H1554.1"/><path d="M0 863.5H1554.1"/></g>
<g opacity="0.78"><use href="#base"/></g>
<g clip-path="url(#foot)"><g clip-path="url(#landclip)"><rect id="veil2" width="1554.1" height="1035.2" fill="#d4d4d4" opacity="0.13"/></g></g>
<g clip-path="url(#foot)"><path d="M99.6 327.6L133.9 320L147.3 314.3L166.4 316.2L185.5 312.4L204.6 314.3L219.9 304.7L231.4 306.6L240.9 314.3L252.4 323.8L254.3 287.5L261.9 283.7L271.5 270.3L277.2 283.7L281 314.3L296.3 289.4L300.2 306.6L309.7 304.7L313.5 321.9L325 329.6L326.9 344.8L334.5 356.3L346 367.8L353.6 379.2L357.5 398.3L365.1 413.6L376.6 409.8L391.8 400.2L401.4 402.2L409 417.4L418.6 421.3L430.1 432.7L437.7 425.1L449.2 427L433.9 440.4L430.1 455.6L422.4 458.5L414.8 473.8L414.8 492.9L411 512L418.6 515.8L426.2 523.5L426.2 542.6L422.4 557.9L424.3 573.1L418.6 588.4L411 603.7L403.3 619L391.8 624.7L380.4 619L368.9 607.5L357.5 596.1L349.8 586.5L342.2 588.4L326.9 596.1L313.5 601.8L296.3 596.1L277.2 588.4L258.1 584.6L244.7 577L240.9 565.5L246.7 550.2L248.6 531.1L248.6 508.2L240.9 496.7L231.4 485.3L223.7 477.6L212.3 485.3L198.9 492.9L197 510.1L185.5 513.9L174.1 512L164.5 502.5L155 489.1L145.4 470L137.8 454.7L130.1 435.6L124.4 417.4L118.7 398.3L114.8 375.4L107.2 352.5Z" fill="none" stroke="#9b636a" stroke-width="34" stroke-linejoin="round" opacity="0.9" filter="url(#b6)"/><g filter="url(#ragf)"><g mask="url(#holemask_a)"><g filter="url(#rag)"><path d="M32.7 625.6L49.7 649.6L59.7 683.6L74.7 710.6L97.7 737.6L127.7 760.6L158.7 779.6L192.7 798.6L232.7 818.6L270.7 826.6L308.7 834.6L347.7 837.6L385.7 834.6L423.7 826.6L461.7 818.6L499.7 807.6L538.7 792.6L568.7 785.6L602.7 807.6L632.7 827.6L662.7 843.6L684.7 847.6L702.7 830.6L717.7 805.6L732.7 775.6L752.7 740.6L759.7 701.6L777.7 665.6L789.7 625.6L800.7 579.6L812.7 548.6L827.7 525.6L846.7 502.6L854.7 472.6L858.7 441.6L869.7 407.6L888.7 380.6L904.7 355.6L934.7 348.6L972.7 355.6L1010.7 363.6L1049.7 376.6L1072.7 388.6L1100.7 410.6L1147.7 447.6L1182.7 473.6L1217.7 497.6L1253.7 521.6L1288.7 545.6L1323.7 568.6L1359.7 592.6L1394.7 620.6L1429.7 645.6L1464.7 669.6L1494.7 693.6L1515.7 708.6L1538.7 742.6L1557.7 760.6L1572.7 760.6L1572.7 -14.4L-7.3 -14.4L-7.3 625.6Z" fill="#26a2c6" stroke="#26a2c6" stroke-width="60"/><path d="M562.7 235.6L862.7 240.6L912.7 265.6L902.7 335.6L862.7 395.6L852.7 475.6L812.7 545.6L772.7 665.6L732.7 755.6L672.7 815.6L572.7 775.6L462.7 815.6L312.7 830.6L172.7 785.6L82.7 715.6L52.7 645.6L52.7 535.6L112.7 535.6L172.7 595.6L252.7 635.6L352.7 625.6L472.7 585.6L572.7 535.6L612.7 435.6L602.7 335.6Z" fill="#2ab7de"/><path d="M1092.7 355.6L1172.7 425.6L1252.7 485.6L1332.7 535.6L1412.7 595.6L1492.7 655.6L1557.7 705.6L1557.7 595.6L1492.7 535.6L1412.7 485.6L1332.7 435.6L1252.7 395.6L1172.7 355.6L1112.7 325.6Z" fill="#2aafd4"/><g filter="url(#streak)"><path d="M550.7 44.6L777.7 19.6L1147.7 -18.4L1182.7 51.6L1212.7 71.6L1262.7 101.6L1312.7 118.6L1372.7 128.6L1432.7 141.6L1492.7 164.6L1557.7 187.6L1557.7 383.6L1538.7 371.6L1499.7 344.6L1421.7 324.6L1344.7 316.6L1266.7 314.6L1188.7 305.6L1110.7 289.6L1032.7 265.6L932.7 247.6L856.7 243.6L837.7 262.6L818.7 278.6L779.7 240.6L742.7 260.6L703.7 255.6L672.7 235.6L665.7 285.6L627.7 285.6L615.7 209.6L600.7 167.6L569.7 129.6Z" fill="#2dcdf5"/><path d="M609.7 258.6L647.7 285.6L678.7 330.6L705.7 361.6L735.7 372.6L720.7 403.6L705.7 434.6L678.7 464.6L663.7 502.6L647.7 541.6L621.7 564.6L590.7 541.6L575.7 502.6L563.7 479.6L583.7 449.6L590.7 403.6L586.7 350.6L590.7 304.6Z" fill="#2dcdf5"/><path d="M-7.3 92.6L172.7 79.6L174.7 165.6L152.7 205.6L112.7 225.6L72.7 235.6L-7.3 240.6Z" fill="#2dcdf5"/></g><path d="M45.7 245.6L82.7 240.6L132.7 230.6L172.7 195.6L187.7 165.6L187.7 255.6L172.7 285.6L112.7 305.6L82.7 335.6L62.7 375.6L57.7 435.6L67.7 515.6L82.7 595.6L52.7 625.6L45.7 535.6Z" fill="#2390b0"/><path d="M1172.7 35.6L1352.7 17.6L1372.7 50.6L1412.7 70.6L1472.7 75.6L1537.7 95.6L1557.7 105.6L1557.7 135.6L1472.7 113.6L1392.7 99.6L1312.7 82.6L1252.7 72.6L1202.7 59.6Z" fill="#1f7d98"/><path d="M1302.7 23.6L1357.7 18.6L1367.7 38.6L1392.7 52.6L1427.7 55.6L1472.7 52.6L1507.7 61.6L1557.7 57.6L1557.7 100.6L1512.7 90.6L1482.7 75.6L1432.7 75.6L1392.7 70.6L1362.7 57.6L1332.7 40.6Z" fill="#0b333c"/><path d="M231.4 588.4L261.9 596.1L300.2 619L323.1 649.6L338.4 695.4L361.3 664.8L376.6 634.3L368.9 607.5L346 588.4L313.5 601.8L277.2 588.4L258.1 584.6Z" fill="#2289a8"/><path d="M426.2 580.8L453 565.5L491.2 561.7L529.4 550.2L552.7 542.6L567.6 596.1L552.7 649.6L521.8 641.9L498.8 657.2L472.1 664.8L453 680.1L433.9 683.9L445.3 649.6L430.1 619Z" fill="#2289a8"/><path d="M120.6 542.6L158.8 546.4L170.2 569.3L155 588.4L132 580.8Z" fill="#2289a8"/><path d="M168.6 138.6L338.8 123.6L563.7 102.3L575.2 128.3L598.3 162.9L612.7 197.5L615.6 237.8L604.1 272.5L586.8 301.3L581 330.1L592.6 364.7L581 399.3L569.5 434L557.9 468.6L540.6 503.2L511.8 537.8L483 560.8L454.1 572.4L431.1 595.5L396.4 607L338.8 572.4L252.3 514.7L183 503.2L136.9 457L116.7 387.8L96.5 341.7L79.2 307.1L85 284L125.4 272.5L165.7 255.2L183 226.3L171.5 185.9Z" fill="#1f7d98"/><path d="M255.1 191.7L292.6 174.4L309.9 185.9L338.8 197.5L367.6 185.9L390.7 226.3L396.4 266.7L390.7 307.1L408 335.9L454.1 364.7L500.3 370.5L529.1 364.7L546.4 387.8L540.6 422.4L523.3 457L511.8 491.6L494.5 520.5L471.4 543.5L448.4 549.3L425.3 514.7L396.4 485.9L361.8 410.9L350.3 370.5L327.2 341.7L315.7 307.1L292.6 289.8L275.3 272.5L252.3 289.8L240.7 272.5L246.5 226.3Z" fill="#14525f" stroke="#14525f" stroke-width="26" stroke-linejoin="round"/><path d="M292.6 249.4L338.8 237.8L373.4 272.5L384.9 318.6L419.5 353.2L465.7 387.8L511.8 399.3L523.3 434L500.3 480.1L471.4 514.7L448.4 526.2L431.1 491.6L408 457L384.9 410.9L361.8 370.5L338.8 330.1L315.7 295.5Z" fill="#0d3a44" stroke="#0d3a44" stroke-width="20" stroke-linejoin="round"/><path d="M78.5 287.5L93.8 279.9L109.1 287.5L114.8 306.6L109.1 323.8L93.8 329.6L82.4 318.1Z" fill="#14525f"/><path d="M342.2 588.4L357.5 596.1L368.9 607.5L380.4 619L376.6 634.3L361.3 645.7L346 641.9L338.4 615.2Z" fill="#14525f"/><path d="M32.7 625.6L49.7 649.6L59.7 683.6L74.7 710.6L97.7 737.6L127.7 760.6L158.7 779.6L192.7 798.6L232.7 818.6L270.7 826.6L308.7 834.6L347.7 837.6L385.7 834.6L423.7 826.6L461.7 818.6L499.7 807.6L538.7 792.6L568.7 785.6L602.7 807.6L632.7 827.6L662.7 843.6L684.7 847.6L702.7 830.6L717.7 805.6L732.7 775.6L752.7 740.6L759.7 701.6L777.7 665.6L789.7 625.6L800.7 579.6L812.7 548.6L827.7 525.6L846.7 502.6L854.7 472.6L858.7 441.6L869.7 407.6L888.7 380.6L904.7 355.6L934.7 348.6" fill="none" stroke="#2390b0" stroke-width="110" stroke-linejoin="round"/><path d="M567.7 730.6L597.7 733.6L640.7 719.6L684.7 699.6L704.7 685.6L736.7 671.6L777.7 691.6L762.7 725.6L748.7 763.6L727.7 790.6L712.7 820.6L690.7 845.6L660.7 843.6L630.7 829.6L600.7 809.6L570.7 791.6L550.7 780.6L544.7 745.6Z" fill="#14525f"/></g><path d="M99.6 327.6L133.9 320L147.3 314.3L166.4 316.2L185.5 312.4L204.6 314.3L219.9 304.7L231.4 306.6L240.9 314.3L252.4 323.8L254.3 287.5L261.9 283.7L271.5 270.3L277.2 283.7L281 314.3L296.3 289.4L300.2 306.6L309.7 304.7L313.5 321.9L325 329.6L326.9 344.8L334.5 356.3L346 367.8L353.6 379.2L357.5 398.3L365.1 413.6L376.6 409.8L391.8 400.2L401.4 402.2L409 417.4L418.6 421.3L430.1 432.7L437.7 425.1L449.2 427L433.9 440.4L430.1 455.6L422.4 458.5L414.8 473.8L414.8 492.9L411 512L418.6 515.8L426.2 523.5L426.2 542.6L422.4 557.9L424.3 573.1L418.6 588.4L411 603.7L403.3 619L391.8 624.7L380.4 619L368.9 607.5L357.5 596.1L349.8 586.5L342.2 588.4L326.9 596.1L313.5 601.8L296.3 596.1L277.2 588.4L258.1 584.6L244.7 577L240.9 565.5L246.7 550.2L248.6 531.1L248.6 508.2L240.9 496.7L231.4 485.3L223.7 477.6L212.3 485.3L198.9 492.9L197 510.1L185.5 513.9L174.1 512L164.5 502.5L155 489.1L145.4 470L137.8 454.7L130.1 435.6L124.4 417.4L118.7 398.3L114.8 375.4L107.2 352.5Z" fill="none" stroke="#14525f" stroke-width="16" stroke-linejoin="round"/><path d="M934.7 348.6L972.7 355.6L1010.7 363.6L1049.7 376.6L1072.7 388.6L1100.7 410.6L1147.7 447.6L1182.7 473.6L1217.7 497.6L1253.7 521.6L1288.7 545.6L1323.7 568.6L1359.7 592.6L1394.7 620.6L1429.7 645.6L1464.7 669.6L1494.7 693.6L1515.7 708.6L1538.7 742.6L1557.7 760.6" fill="none" stroke="#1f7d98" stroke-width="56" stroke-linejoin="round"/><path d="M32.7 625.6L49.7 649.6L59.7 683.6L74.7 710.6L97.7 737.6L127.7 760.6L158.7 779.6L192.7 798.6L232.7 818.6L270.7 826.6L308.7 834.6L347.7 837.6L385.7 834.6L423.7 826.6L461.7 818.6L499.7 807.6L538.7 792.6L568.7 785.6L602.7 807.6L632.7 827.6L662.7 843.6L684.7 847.6L702.7 830.6L717.7 805.6L732.7 775.6L752.7 740.6L759.7 701.6L777.7 665.6L789.7 625.6L800.7 579.6L812.7 548.6L827.7 525.6L846.7 502.6L854.7 472.6L858.7 441.6L869.7 407.6L888.7 380.6L904.7 355.6L934.7 348.6" fill="none" stroke="#1f7d98" stroke-width="64" stroke-linejoin="round"/><path d="M567.7 730.6L597.7 733.6L640.7 719.6L684.7 699.6L704.7 685.6L736.7 671.6L777.7 691.6L762.7 725.6L748.7 763.6L727.7 790.6L712.7 820.6L690.7 845.6L660.7 843.6L630.7 829.6L600.7 809.6L570.7 791.6L550.7 780.6L544.7 745.6Z" fill="#14525f" stroke="#14525f" stroke-width="14" stroke-linejoin="round"/><path d="M934.7 348.6L972.7 355.6L1010.7 363.6L1049.7 376.6L1072.7 388.6L1100.7 410.6L1147.7 447.6L1182.7 473.6L1217.7 497.6L1253.7 521.6L1288.7 545.6L1323.7 568.6L1359.7 592.6L1394.7 620.6L1429.7 645.6L1464.7 669.6L1494.7 693.6L1515.7 708.6L1538.7 742.6L1557.7 760.6" fill="none" stroke="#14525f" stroke-width="22" stroke-linejoin="round"/><path d="M32.7 625.6L49.7 649.6L59.7 683.6L74.7 710.6L97.7 737.6L127.7 760.6L158.7 779.6L192.7 798.6L232.7 818.6L270.7 826.6L308.7 834.6L347.7 837.6L385.7 834.6L423.7 826.6L461.7 818.6L499.7 807.6L538.7 792.6L568.7 785.6L602.7 807.6L632.7 827.6L662.7 843.6L684.7 847.6L702.7 830.6L717.7 805.6L732.7 775.6L752.7 740.6L759.7 701.6L777.7 665.6L789.7 625.6L800.7 579.6L812.7 548.6L827.7 525.6L846.7 502.6L854.7 472.6L858.7 441.6L869.7 407.6L888.7 380.6L904.7 355.6L934.7 348.6" fill="none" stroke="#14525f" stroke-width="40" stroke-linejoin="round"/><path d="M934.7 348.6L972.7 355.6L1010.7 363.6L1049.7 376.6L1072.7 388.6L1100.7 410.6L1147.7 447.6L1182.7 473.6L1217.7 497.6L1253.7 521.6L1288.7 545.6L1323.7 568.6L1359.7 592.6L1394.7 620.6L1429.7 645.6L1464.7 669.6L1494.7 693.6L1515.7 708.6L1538.7 742.6L1557.7 760.6" fill="none" stroke="#0b333c" stroke-width="11" stroke-linejoin="round"/><path d="M32.7 625.6L49.7 649.6L59.7 683.6L74.7 710.6L97.7 737.6L127.7 760.6L158.7 779.6L192.7 798.6L232.7 818.6L270.7 826.6L308.7 834.6L347.7 837.6L385.7 834.6L423.7 826.6L461.7 818.6L499.7 807.6L538.7 792.6L568.7 785.6L602.7 807.6L632.7 827.6L662.7 843.6L684.7 847.6L702.7 830.6L717.7 805.6L732.7 775.6L752.7 740.6L759.7 701.6L777.7 665.6L789.7 625.6L800.7 579.6L812.7 548.6L827.7 525.6L846.7 502.6L854.7 472.6L858.7 441.6L869.7 407.6L888.7 380.6L904.7 355.6L934.7 348.6" fill="none" stroke="#0b333c" stroke-width="14" stroke-linejoin="round"/></g></g><g clip-path="url(#landclip)"><g filter="url(#speckA)" fill="none" stroke="#000" stroke-linejoin="round"><g opacity="0.51"><path d="M32.7 625.6L49.7 649.6L59.7 683.6L74.7 710.6L97.7 737.6L127.7 760.6L158.7 779.6L192.7 798.6L232.7 818.6L270.7 826.6L308.7 834.6L347.7 837.6L385.7 834.6L423.7 826.6L461.7 818.6L499.7 807.6L538.7 792.6L568.7 785.6L602.7 807.6L632.7 827.6L662.7 843.6L684.7 847.6L702.7 830.6L717.7 805.6" stroke-width="130"/><path d="M717.7 805.6L732.7 775.6L752.7 740.6L759.7 701.6L777.7 665.6L789.7 625.6L800.7 579.6L812.7 548.6L827.7 525.6L846.7 502.6L854.7 472.6L858.7 441.6L869.7 407.6L888.7 380.6L904.7 355.6L934.7 348.6" stroke-width="70"/><path d="M934.7 348.6L972.7 355.6L1010.7 363.6L1049.7 376.6L1072.7 388.6L1100.7 410.6L1147.7 447.6L1182.7 473.6L1217.7 497.6L1253.7 521.6L1288.7 545.6L1323.7 568.6L1359.7 592.6L1394.7 620.6L1429.7 645.6L1464.7 669.6L1494.7 693.6L1515.7 708.6L1538.7 742.6L1557.7 760.6" stroke-width="50"/><path d="M567.7 730.6L597.7 733.6L640.7 719.6L684.7 699.6L704.7 685.6L736.7 671.6L777.7 691.6L762.7 725.6L748.7 763.6L727.7 790.6L712.7 820.6L690.7 845.6L660.7 843.6L630.7 829.6L600.7 809.6L570.7 791.6L550.7 780.6L544.7 745.6Z" stroke-width="150"/></g><g opacity="0.39"><path d="M32.7 625.6L49.7 649.6L59.7 683.6L74.7 710.6L97.7 737.6L127.7 760.6L158.7 779.6L192.7 798.6L232.7 818.6L270.7 826.6L308.7 834.6L347.7 837.6L385.7 834.6L423.7 826.6L461.7 818.6L499.7 807.6L538.7 792.6L568.7 785.6L602.7 807.6L632.7 827.6L662.7 843.6L684.7 847.6L702.7 830.6L717.7 805.6" stroke-width="56"/><path d="M717.7 805.6L732.7 775.6L752.7 740.6L759.7 701.6L777.7 665.6L789.7 625.6L800.7 579.6L812.7 548.6L827.7 525.6L846.7 502.6L854.7 472.6L858.7 441.6L869.7 407.6L888.7 380.6L904.7 355.6L934.7 348.6" stroke-width="30"/><path d="M934.7 348.6L972.7 355.6L1010.7 363.6L1049.7 376.6L1072.7 388.6L1100.7 410.6L1147.7 447.6L1182.7 473.6L1217.7 497.6L1253.7 521.6L1288.7 545.6L1323.7 568.6L1359.7 592.6L1394.7 620.6L1429.7 645.6L1464.7 669.6L1494.7 693.6L1515.7 708.6L1538.7 742.6L1557.7 760.6" stroke-width="12"/><path d="M567.7 730.6L597.7 733.6L640.7 719.6L684.7 699.6L704.7 685.6L736.7 671.6L777.7 691.6L762.7 725.6L748.7 763.6L727.7 790.6L712.7 820.6L690.7 845.6L660.7 843.6L630.7 829.6L600.7 809.6L570.7 791.6L550.7 780.6L544.7 745.6Z" stroke-width="80"/></g><path d="M32.7 625.6L49.7 649.6L59.7 683.6L74.7 710.6L97.7 737.6L127.7 760.6L158.7 779.6L192.7 798.6L232.7 818.6L270.7 826.6L308.7 834.6L347.7 837.6L385.7 834.6L423.7 826.6L461.7 818.6L499.7 807.6L538.7 792.6L568.7 785.6L602.7 807.6L632.7 827.6L662.7 843.6L684.7 847.6L702.7 830.6L717.7 805.6" stroke-width="26"/><path d="M567.7 730.6L597.7 733.6L640.7 719.6L684.7 699.6L704.7 685.6L736.7 671.6L777.7 691.6L762.7 725.6L748.7 763.6L727.7 790.6L712.7 820.6L690.7 845.6L660.7 843.6L630.7 829.6L600.7 809.6L570.7 791.6L550.7 780.6L544.7 745.6Z" stroke-width="30" fill="#000"/></g></g></g>
<path d="M1166.8 978.3H1425.3" stroke="#8c8c8c" stroke-width="9.5" fill="none"/><path d="M1498 941.6L1525.7 996.6H1470Z" fill="#8c8c8c"/><text x="1494.4" y="926.3" font-size="35" font-weight="bold" text-anchor="middle" fill="#8c8c8c">N</text><text x="1273.3" y="1026" font-size="37" text-anchor="middle" fill="#999" textLength="84" lengthAdjust="spacingAndGlyphs">10 m</text>
</g>
</g>
<rect x="387.3" y="164.4" width="1554.1" height="1035.2" fill="none" stroke="#000" stroke-width="3"/>
<path d="M712.9 1199.6v11.5M1193.4 1199.6v11.5M1673.9 1199.6v11.5M387.3 174.7h-11.5M387.3 459.1h-11.5M387.3 743.5h-11.5M387.3 1027.9h-11.5" stroke="#000" stroke-width="3" fill="none"/>
<text x="360.8" y="191.7" font-size="47.5" text-anchor="end" fill="#000" stroke="#fff" stroke-width="0.76">33.7022</text>
<text x="360.8" y="476.1" font-size="47.5" text-anchor="end" fill="#000" stroke="#fff" stroke-width="0.76">33.7021</text>
<text x="360.8" y="760.5" font-size="47.5" text-anchor="end" fill="#000" stroke="#fff" stroke-width="0.76">33.7020</text>
<text x="360.8" y="1044.9" font-size="47.5" text-anchor="end" fill="#000" stroke="#fff" stroke-width="0.76">33.7019</text>
<text x="712.9" y="1264.1" font-size="47.5" text-anchor="middle" fill="#000" stroke="#fff" stroke-width="0.76">−97.7160</text>
<text x="1193.4" y="1264.1" font-size="47.5" text-anchor="middle" fill="#000" stroke="#fff" stroke-width="0.76">−97.7158</text>
<text x="1673.9" y="1264.1" font-size="47.5" text-anchor="middle" fill="#000" stroke="#fff" stroke-width="0.76">−97.7156</text>
<text x="1164.8" y="1349.6" font-size="68" text-anchor="middle" fill="#000" stroke="#fff" stroke-width="1.09" textLength="356" lengthAdjust="spacingAndGlyphs">Longitude</text>
<text x="155.3" y="680" font-size="68" text-anchor="middle" fill="#000" stroke="#fff" stroke-width="1.09" textLength="287" lengthAdjust="spacingAndGlyphs" transform="rotate(-90 155.3 680)">Latitude</text>
<text x="21" y="105" font-size="111" text-anchor="start" fill="#000" stroke="#fff" stroke-width="1.78" textLength="127" lengthAdjust="spacingAndGlyphs">(a)</text>
<rect x="1996.5" y="164.4" width="37" height="1035.2" fill="url(#cba)" stroke="#000" stroke-width="3"/>
<text x="2062" y="450.1" font-size="47.5" text-anchor="start" fill="#000" stroke="#fff" stroke-width="0.76">0.7</text><text x="2062" y="787.5" font-size="47.5" text-anchor="start" fill="#000" stroke="#fff" stroke-width="0.76">0.6</text><text x="2062" y="1124.9" font-size="47.5" text-anchor="start" fill="#000" stroke="#fff" stroke-width="0.76">0.5</text><path d="M2033.5 230.7h11.3M2033.5 298.1h11.3M2033.5 365.6h11.3M2033.5 433.1h17.3M2033.5 500.6h11.3M2033.5 568.1h11.3M2033.5 635.5h11.3M2033.5 703h11.3M2033.5 770.5h17.3M2033.5 838h11.3M2033.5 905.5h11.3M2033.5 972.9h11.3M2033.5 1040.4h11.3M2033.5 1107.9h17.3M2033.5 1175.4h11.3" stroke="#000" stroke-width="3" fill="none"/>
<!-- panel b -->
<g transform="translate(377.4 1577.5) scale(1.0109)">
<g clip-path="url(#axclip)">
<g stroke="#000" stroke-opacity="0.06" stroke-width="2.6" fill="none"><path d="M37.3 0V1035.2"/><path d="M133.4 0V1035.2"/><path d="M229.5 0V1035.2"/><path d="M421.7 0V1035.2"/><path d="M517.8 0V1035.2"/><path d="M613.9 0V1035.2"/><path d="M710 0V1035.2"/><path d="M902.2 0V1035.2"/><path d="M998.3 0V1035.2"/><path d="M1094.4 0V1035.2"/><path d="M1190.5 0V1035.2"/><path d="M1382.7 0V1035.2"/><path d="M1478.8 0V1035.2"/><path d="M0 67.2H1554.1"/><path d="M0 124.1H1554.1"/><path d="M0 180.9H1554.1"/><path d="M0 237.8H1554.1"/><path d="M0 351.6H1554.1"/><path d="M0 408.5H1554.1"/><path d="M0 465.3H1554.1"/><path d="M0 522.2H1554.1"/><path d="M0 636H1554.1"/><path d="M0 692.9H1554.1"/><path d="M0 749.7H1554.1"/><path d="M0 806.6H1554.1"/><path d="M0 920.4H1554.1"/><path d="M0 977.3H1554.1"/><path d="M0 1034.1H1554.1"/></g><g stroke="#000" stroke-opacity="0.12" stroke-width="6" fill="none"><path d="M325.6 0V1035.2"/><path d="M806.1 0V1035.2"/><path d="M1286.6 0V1035.2"/><path d="M0 10.3H1554.1"/><path d="M0 294.7H1554.1"/><path d="M0 579.1H1554.1"/><path d="M0 863.5H1554.1"/></g>
<g opacity="0.78"><use href="#base"/></g>
<g clip-path="url(#foot)"><g mask="url(#bmask)"><g filter="url(#ragb)"><path d="M34.5 599.5L51.9 611.1L75.2 622.7L104.3 657.6L127.5 692.5L156.6 721.6L185.7 750.7L220.6 773.9L261.3 791.4L302 800.1L348.5 803L395 805.9L441.5 797.2L488 785.5L534.6 773.9L569.4 744.8L592.7 727.4L627.6 698.3L656.7 704.1L685.7 686.7L714.8 663.4L749.7 634.4L767.1 599.5L791 576L799.2 522.5L810.8 487.6L828.2 452.8L839.9 412.1L851.5 377.2L880.6 342.3L915.5 327.7L962 324.8L1008.5 336.5L1043.4 353.9L1078.3 377.2L1113.1 400.4L1148 423.7L1182.9 452.8L1217.8 470.2L1252.7 493.5L1287.6 516.7L1322.5 545.8L1357.4 563.2L1392.3 586.5L1427.1 609.8L1462 633L1496.9 656.3L1526 673.7L1566.7 697L1566.7 784.2L1514.4 801.6L1485.3 784.2L1450.4 760.9L1421.3 737.7L1392.3 720.2L1369 691.2L1345.7 673.7L1310.8 662.1L1276 644.6L1241.1 621.4L1206.2 598.1L1171.3 580.7L1142.2 563.2L1113.1 540L1089.9 510.9L1072.4 493.5L1043.4 481.8L1014.3 478.9L985.2 490.6L962 510.9L938.7 545.8L915.5 574.9L892.2 609.8L868.9 644.6L845.7 679.5L822.4 714.4L799.2 749.3L791 760.9L767.1 756.5L738.1 750.7L714.8 779.7L697.4 820.4L685.7 867L668.3 907.7L639.2 913.5L610.1 890.2L592.7 884.4L581.1 896L546.2 907.7L511.3 919.3L488 936.7L453.1 948.4L406.6 960L371.7 977.4L348.5 994.9L220.6 1018.1L185.7 977.4L150.8 948.4L115.9 919.3L81 890.2L51.9 867L34.5 855.3Z" fill="#0d4717"/><path d="M34.5 692.5L57.8 710L92.6 750.7L133.3 791.4L174 820.4L220.6 837.9L267.1 849.5L313.6 855.3L360.1 855.3L406.6 843.7L453.1 832.1L499.7 820.4L540.4 808.8L552 814.6L557.8 820.4L575.3 855.3L586.9 887.3L592.7 884.4L610.1 890.2L639.2 913.5L668.3 907.7L685.7 867L697.4 820.4L714.8 779.7L726.4 744.8L743.9 692.5L767.1 640.2L791 609.8L807.9 551.6L822.4 510.9L839.9 470.2L854.4 429.5L868.9 394.6L892.2 365.5L921.3 351L962 346.9L1002.7 356.8L1037.6 372.5L1072.4 394.6L1107.3 416.7L1142.2 440L1177.1 467.9L1212 486.5L1246.9 509.7L1281.8 533L1316.7 561.5L1351.5 579.5L1386.4 602.8L1421.3 626L1456.2 649.3L1491.1 672.6L1520.2 690L1566.7 714.4L1566.7 784.2L1514.4 801.6L1485.3 784.2L1450.4 760.9L1421.3 737.7L1392.3 720.2L1369 691.2L1345.7 673.7L1310.8 662.1L1276 644.6L1241.1 621.4L1206.2 598.1L1171.3 580.7L1142.2 563.2L1113.1 540L1089.9 510.9L1072.4 493.5L1043.4 481.8L1014.3 478.9L985.2 490.6L962 510.9L938.7 545.8L915.5 574.9L892.2 609.8L868.9 644.6L845.7 679.5L822.4 714.4L799.2 749.3L791 760.9L767.1 756.5L738.1 750.7L714.8 779.7L697.4 820.4L685.7 867L668.3 907.7L639.2 913.5L610.1 890.2L592.7 884.4L581.1 896L546.2 907.7L511.3 919.3L488 936.7L453.1 948.4L406.6 960L371.7 977.4L348.5 994.9L220.6 1018.1L185.7 977.4L150.8 948.4L115.9 919.3L81 890.2L51.9 867L34.5 855.3Z" fill="#1c8029"/><path d="M34.5 736.1L54.8 750.7L89.7 779.7L124.6 814.6L162.4 843.7L206 864L249.6 875.7L293.2 881.5L336.9 887.3L383.4 872.8L429.9 855.3L476.4 843.7L520 835L546.2 826.2L557.8 823.3L575.3 856.8L586.9 887.9L592.7 884.4L610.1 890.2L639.2 913.5L668.3 907.7L685.7 867L697.4 820.4L714.8 779.7L729.3 747.8L749.7 701.2L773 654.7L791 627.2L812.2 566.1L828.2 522.5L845.7 481.8L861.7 441.1L877.7 406.2L900.9 378.6L927.1 364.1L962 360.6L999.8 368.4L1034.7 383L1069.5 403.9L1104.4 425.4L1139.3 448.7L1174.2 476L1209.1 495.2L1244 518.5L1278.9 541.7L1313.8 569.6L1348.6 588.2L1383.5 611.5L1418.4 634.8L1453.3 658L1488.2 681.3L1517.3 698.7L1566.7 723.7L1566.7 784.2L1514.4 801.6L1485.3 784.2L1450.4 760.9L1421.3 737.7L1392.3 720.2L1369 691.2L1345.7 673.7L1310.8 662.1L1276 644.6L1241.1 621.4L1206.2 598.1L1171.3 580.7L1142.2 563.2L1113.1 540L1089.9 510.9L1072.4 493.5L1043.4 481.8L1014.3 478.9L985.2 490.6L962 510.9L938.7 545.8L915.5 574.9L892.2 609.8L868.9 644.6L845.7 679.5L822.4 714.4L799.2 749.3L791 760.9L767.1 756.5L738.1 750.7L714.8 779.7L697.4 820.4L685.7 867L668.3 907.7L639.2 913.5L610.1 890.2L592.7 884.4L581.1 896L546.2 907.7L511.3 919.3L488 936.7L453.1 948.4L406.6 960L371.7 977.4L348.5 994.9L220.6 1018.1L185.7 977.4L150.8 948.4L115.9 919.3L81 890.2L51.9 867L34.5 855.3Z" fill="#27b238"/><path d="M34.5 779.7L51.9 791.4L86.8 808.8L115.9 837.9L150.8 867L191.5 890.2L232.2 901.8L272.9 907.7L313.6 919.3L360.1 901.8L406.6 878.6L453.1 867L499.7 861.1L540.4 837.9L557.8 826.2L575.3 858.2L586.9 888.5L592.7 884.4L610.1 890.2L639.2 913.5L668.3 907.7L685.7 867L697.4 820.4L714.8 779.7L732.3 750.7L755.5 710L778.8 669.3L791 644.6L816.6 580.7L834 534.2L851.5 493.5L868.9 452.8L886.4 417.9L909.6 391.7L932.9 377.2L962 374.3L996.9 380.1L1031.7 393.5L1066.6 413.2L1101.5 434.2L1136.4 457.4L1171.3 484.2L1206.2 503.9L1241.1 527.2L1276 550.4L1310.8 577.8L1345.7 597L1380.6 620.2L1415.5 643.5L1450.4 666.7L1485.3 690L1514.4 707.4L1566.7 733L1566.7 784.2L1514.4 801.6L1485.3 784.2L1450.4 760.9L1421.3 737.7L1392.3 720.2L1369 691.2L1345.7 673.7L1310.8 662.1L1276 644.6L1241.1 621.4L1206.2 598.1L1171.3 580.7L1142.2 563.2L1113.1 540L1089.9 510.9L1072.4 493.5L1043.4 481.8L1014.3 478.9L985.2 490.6L962 510.9L938.7 545.8L915.5 574.9L892.2 609.8L868.9 644.6L845.7 679.5L822.4 714.4L799.2 749.3L791 760.9L767.1 756.5L738.1 750.7L714.8 779.7L697.4 820.4L685.7 867L668.3 907.7L639.2 913.5L610.1 890.2L592.7 884.4L581.1 896L546.2 907.7L511.3 919.3L488 936.7L453.1 948.4L406.6 960L371.7 977.4L348.5 994.9L220.6 1018.1L185.7 977.4L150.8 948.4L115.9 919.3L81 890.2L51.9 867L34.5 855.3Z" fill="#35e449"/><path d="M191.5 826.2L208.9 832.1L203.1 849.5L188.6 846.6Z" fill="#0d4717"/><path d="M255.4 849.5L272.9 855.3L267.1 872.8L252.5 867Z" fill="#0d4717"/><path d="M313.6 826.2L331 832.1L325.2 846.6L310.7 840.8Z" fill="#0d4717"/><path d="M145 867L162.4 872.8L156.6 887.3L142.1 881.5Z" fill="#0d4717"/><path d="M179.9 872.8L194.4 878.6L188.6 890.2L177 884.4Z" fill="#0d4717"/><path d="M267.1 884.4L284.5 890.2L278.7 901.8L264.2 898.9Z" fill="#0d4717"/><path d="M75.2 773.9L101.4 779.7L107.2 800.1L86.8 805.9L72.3 791.4Z" fill="#0d4717"/><path d="M938.7 406.2L973.6 400.4L996.9 417.9L991 452.8L962 464.4L938.7 446.9Z" fill="#0d4717"/><path d="M793.3 685.3L816.6 679.5L822.4 702.8L805 714.4L790.4 705.7Z" fill="#0d4717"/><path d="M839.9 598.1L857.3 592.3L863.1 615.6L845.7 621.4Z" fill="#0d4717"/><path d="M1284.2 25.4L1314.1 23L1362.8 18.9L1419.5 12.4L1476.2 6.8L1541.1 1.1L1541.1 104L1528.9 95.9L1508.6 83.7L1460 67.5L1411.4 63.5L1362.8 47.3L1314.1 39.2Z" fill="#0d4717"/><path d="M1370.9 18.9L1419.5 12.4L1476.2 6.8L1541.1 1.1L1541.1 67.5L1508.6 63.5L1460 51.3L1411.4 47.3Z" fill="#1c8029"/><path d="M1443.8 9.2L1541.1 1.1L1541.1 35.1L1500.5 36.7L1460 27Z" fill="#35e449"/></g></g><g filter="url(#speckG)" stroke="#000" stroke-linejoin="round"><path d="M34.5 779.7L51.9 791.4L86.8 808.8L115.9 837.9L150.8 867L191.5 890.2L232.2 901.8L272.9 907.7L313.6 919.3L360.1 901.8L406.6 878.6L453.1 867L499.7 861.1L540.4 837.9L557.8 826.2L575.3 858.2L586.9 888.5L592.7 884.4L610.1 890.2L639.2 913.5L668.3 907.7L685.7 867L697.4 820.4L714.8 779.7L732.3 750.7L755.5 710L778.8 669.3L791 644.6L816.6 580.7L834 534.2L851.5 493.5L868.9 452.8L886.4 417.9L909.6 391.7L932.9 377.2L962 374.3L996.9 380.1L1031.7 393.5L1066.6 413.2L1101.5 434.2L1136.4 457.4L1171.3 484.2L1206.2 503.9L1241.1 527.2L1276 550.4L1310.8 577.8L1345.7 597L1380.6 620.2L1415.5 643.5L1450.4 666.7L1485.3 690L1514.4 707.4L1566.7 733L1566.7 784.2L1514.4 801.6L1485.3 784.2L1450.4 760.9L1421.3 737.7L1392.3 720.2L1369 691.2L1345.7 673.7L1310.8 662.1L1276 644.6L1241.1 621.4L1206.2 598.1L1171.3 580.7L1142.2 563.2L1113.1 540L1089.9 510.9L1072.4 493.5L1043.4 481.8L1014.3 478.9L985.2 490.6L962 510.9L938.7 545.8L915.5 574.9L892.2 609.8L868.9 644.6L845.7 679.5L822.4 714.4L799.2 749.3L791 760.9L767.1 756.5L738.1 750.7L714.8 779.7L697.4 820.4L685.7 867L668.3 907.7L639.2 913.5L610.1 890.2L592.7 884.4L581.1 896L546.2 907.7L511.3 919.3L488 936.7L453.1 948.4L406.6 960L371.7 977.4L348.5 994.9L220.6 1018.1L185.7 977.4L150.8 948.4L115.9 919.3L81 890.2L51.9 867L34.5 855.3Z" fill="#000" fill-opacity="0.44" stroke="none"/><path d="M34.5 599.5L51.9 611.1L75.2 622.7L104.3 657.6L127.5 692.5L156.6 721.6L185.7 750.7L220.6 773.9L261.3 791.4L302 800.1L348.5 803L395 805.9L441.5 797.2L488 785.5L534.6 773.9L569.4 744.8L592.7 727.4L627.6 698.3L656.7 704.1L685.7 686.7L714.8 663.4L749.7 634.4L767.1 599.5L791 576L799.2 522.5L810.8 487.6L828.2 452.8L839.9 412.1L851.5 377.2L880.6 342.3L915.5 327.7L962 324.8L1008.5 336.5L1043.4 353.9L1078.3 377.2L1113.1 400.4L1148 423.7L1182.9 452.8L1217.8 470.2L1252.7 493.5L1287.6 516.7L1322.5 545.8L1357.4 563.2L1392.3 586.5L1427.1 609.8L1462 633L1496.9 656.3L1526 673.7L1566.7 697" fill="none" stroke-opacity="0.51" stroke-width="50"/><path d="M34.5 692.5L57.8 710L92.6 750.7L133.3 791.4L174 820.4L220.6 837.9L267.1 849.5L313.6 855.3L360.1 855.3L406.6 843.7L453.1 832.1L499.7 820.4L540.4 808.8L552 814.6L557.8 820.4L575.3 855.3L586.9 887.3L592.7 884.4L610.1 890.2L639.2 913.5L668.3 907.7L685.7 867L697.4 820.4L714.8 779.7L726.4 744.8L743.9 692.5L767.1 640.2L791 609.8L807.9 551.6L822.4 510.9L839.9 470.2L854.4 429.5L868.9 394.6L892.2 365.5L921.3 351L962 346.9L1002.7 356.8L1037.6 372.5L1072.4 394.6L1107.3 416.7L1142.2 440L1177.1 467.9L1212 486.5L1246.9 509.7L1281.8 533L1316.7 561.5L1351.5 579.5L1386.4 602.8L1421.3 626L1456.2 649.3L1491.1 672.6L1520.2 690L1566.7 714.4" fill="none" stroke-opacity="0.39" stroke-width="40"/></g></g>
<path d="M1166.8 978.3H1425.3" stroke="#8c8c8c" stroke-width="9.5" fill="none"/><path d="M1498 941.6L1525.7 996.6H1470Z" fill="#8c8c8c"/><text x="1494.4" y="926.3" font-size="35" font-weight="bold" text-anchor="middle" fill="#8c8c8c">N</text><text x="1273.3" y="1026" font-size="37" text-anchor="middle" fill="#999" textLength="84" lengthAdjust="spacingAndGlyphs">10 m</text>
</g>
</g>
<rect x="377.4" y="1577.5" width="1571" height="1046.5" fill="none" stroke="#000" stroke-width="3"/>
<path d="M706.5 2624v11.5M1192.3 2624v11.5M1678 2624v11.5M377.4 1587.9h-11.5M377.4 1875.4h-11.5M377.4 2162.9h-11.5M377.4 2450.4h-11.5" stroke="#000" stroke-width="3" fill="none"/>
<text x="350.9" y="1604.9" font-size="47.5" text-anchor="end" fill="#000" stroke="#fff" stroke-width="0.76">33.7022</text>
<text x="350.9" y="1892.4" font-size="47.5" text-anchor="end" fill="#000" stroke="#fff" stroke-width="0.76">33.7021</text>
<text x="350.9" y="2179.9" font-size="47.5" text-anchor="end" fill="#000" stroke="#fff" stroke-width="0.76">33.7020</text>
<text x="350.9" y="2467.4" font-size="47.5" text-anchor="end" fill="#000" stroke="#fff" stroke-width="0.76">33.7019</text>
<text x="706.5" y="2688.5" font-size="47.5" text-anchor="middle" fill="#000" stroke="#fff" stroke-width="0.76">−97.7160</text>
<text x="1192.3" y="2688.5" font-size="47.5" text-anchor="middle" fill="#000" stroke="#fff" stroke-width="0.76">−97.7158</text>
<text x="1678" y="2688.5" font-size="47.5" text-anchor="middle" fill="#000" stroke="#fff" stroke-width="0.76">−97.7156</text>
<text x="1163.4" y="2774" font-size="68" text-anchor="middle" fill="#000" stroke="#fff" stroke-width="1.09" textLength="356" lengthAdjust="spacingAndGlyphs">Longitude</text>
<text x="141.9" y="2098.7" font-size="68" text-anchor="middle" fill="#000" stroke="#fff" stroke-width="1.09" textLength="287" lengthAdjust="spacingAndGlyphs" transform="rotate(-90 141.9 2098.7)">Latitude</text>
<text x="13" y="1507" font-size="111" text-anchor="start" fill="#000" stroke="#fff" stroke-width="1.78" textLength="139" lengthAdjust="spacingAndGlyphs">(b)</text>
<rect x="2004.4" y="1577.5" width="37" height="1046.5" fill="url(#cbb)" stroke="#000" stroke-width="3"/>
<text x="2069.9" y="1802.4" font-size="47.5" text-anchor="start" fill="#000" stroke="#fff" stroke-width="0.76">0.6</text><text x="2069.9" y="2037.2" font-size="47.5" text-anchor="start" fill="#000" stroke="#fff" stroke-width="0.76">0.5</text><text x="2069.9" y="2272" font-size="47.5" text-anchor="start" fill="#000" stroke="#fff" stroke-width="0.76">0.4</text><text x="2069.9" y="2506.8" font-size="47.5" text-anchor="start" fill="#000" stroke="#fff" stroke-width="0.76">0.3</text><path d="M2041.4 1597.6h11.3M2041.4 1644.5h11.3M2041.4 1691.5h11.3M2041.4 1738.4h11.3M2041.4 1785.4h17.3M2041.4 1832.4h11.3M2041.4 1879.3h11.3M2041.4 1926.3h11.3M2041.4 1973.2h11.3M2041.4 2020.2h17.3M2041.4 2067.2h11.3M2041.4 2114.1h11.3M2041.4 2161.1h11.3M2041.4 2208h11.3M2041.4 2255h17.3M2041.4 2302h11.3M2041.4 2348.9h11.3M2041.4 2395.9h11.3M2041.4 2442.8h11.3M2041.4 2489.8h17.3M2041.4 2536.8h11.3M2041.4 2583.7h11.3" stroke="#000" stroke-width="3" fill="none"/>
<!-- panel c -->
<g transform="translate(373.3 3002.6) scale(1.0)">
<g clip-path="url(#axclip)">
<g stroke="#000" stroke-opacity="0.06" stroke-width="2.6" fill="none"><path d="M37.3 0V1035.2"/><path d="M133.4 0V1035.2"/><path d="M229.5 0V1035.2"/><path d="M421.7 0V1035.2"/><path d="M517.8 0V1035.2"/><path d="M613.9 0V1035.2"/><path d="M710 0V1035.2"/><path d="M902.2 0V1035.2"/><path d="M998.3 0V1035.2"/><path d="M1094.4 0V1035.2"/><path d="M1190.5 0V1035.2"/><path d="M1382.7 0V1035.2"/><path d="M1478.8 0V1035.2"/><path d="M0 67.2H1554.1"/><path d="M0 124.1H1554.1"/><path d="M0 180.9H1554.1"/><path d="M0 237.8H1554.1"/><path d="M0 351.6H1554.1"/><path d="M0 408.5H1554.1"/><path d="M0 465.3H1554.1"/><path d="M0 522.2H1554.1"/><path d="M0 636H1554.1"/><path d="M0 692.9H1554.1"/><path d="M0 749.7H1554.1"/><path d="M0 806.6H1554.1"/><path d="M0 920.4H1554.1"/><path d="M0 977.3H1554.1"/><path d="M0 1034.1H1554.1"/></g><g stroke="#000" stroke-opacity="0.12" stroke-width="6" fill="none"><path d="M325.6 0V1035.2"/><path d="M806.1 0V1035.2"/><path d="M1286.6 0V1035.2"/><path d="M0 10.3H1554.1"/><path d="M0 294.7H1554.1"/><path d="M0 579.1H1554.1"/><path d="M0 863.5H1554.1"/></g>
<g opacity="0.78"><use href="#base"/></g>
<g filter="url(#ragc)"><g clip-path="url(#plumeclip)"><rect x="0" y="0" width="1554.1" height="1035.2" fill="#66120e"/><path d="M99.6 291.3C113.3 281.5 151.5 277.6 176 279.5C200.5 281.5 227 291.3 246.6 303.1C266.2 314.8 276 332.4 293.6 350.1C311.2 367.7 330.8 393.2 352.4 408.9C373.9 424.5 399.4 432.4 422.9 444.1C446.4 455.9 475.8 467.6 493.5 479.4C511.1 491.2 524.8 502.9 528.7 514.7C532.6 526.4 526.8 538.2 517 549.9C507.2 561.7 485.6 573.4 469.9 585.2C454.3 597 440.6 614.6 422.9 620.5C405.3 626.3 379.8 625.4 364.1 620.5C348.5 615.6 346.5 598.9 328.9 591.1C311.2 583.2 272 584.2 258.3 573.4C244.6 562.7 250.5 541.1 246.6 526.4C242.7 511.7 243.6 487.2 234.8 485.3C226 483.3 206.4 517.6 193.7 514.7C180.9 511.7 171.1 487.2 158.4 467.6C145.7 448 128 418.7 117.3 397.1C106.5 375.6 96.7 356 93.7 338.3C90.8 320.7 85.9 301.1 99.6 291.3Z" fill="#9a2019" filter="url(#b25)"/><path d="M126.1 326.6C132.9 311.9 157.9 310.4 176 308.9C194.2 307.5 219.1 308.9 234.8 317.8C250.5 326.6 258.3 344.7 270.1 361.8C281.8 379 289.7 404 305.4 420.6C321 437.3 344.5 452 364.1 461.8C383.7 471.6 405.3 470.6 422.9 479.4C440.6 488.2 464.1 501 469.9 514.7C475.8 528.4 468 546 458.2 561.7C448.4 577.4 426.8 604.8 411.2 608.7C395.5 612.6 381.8 590.1 364.1 585.2C346.5 580.3 322 587.2 305.4 579.3C288.7 571.5 274 554.8 264.2 538.2C254.4 521.5 257.4 486.3 246.6 479.4C235.8 472.5 213.3 501 199.6 497C185.8 493.1 175.1 472.5 164.3 455.9C153.5 439.2 141.3 418.7 134.9 397.1C128.5 375.6 119.2 341.3 126.1 326.6Z" fill="#c82a21" filter="url(#b16)"/><path d="M152.5 350.1C162.3 337.3 205.4 338.3 223.1 344.2C240.7 350.1 248.5 368.7 258.3 385.4C268.1 402 270.1 427.5 281.8 444.1C293.6 460.8 311.2 475.5 328.9 485.3C346.5 495.1 373.9 494.1 387.7 502.9C401.4 511.7 411.2 524.5 411.2 538.2C411.2 551.9 401.4 581.3 387.7 585.2C373.9 589.1 346.5 571.5 328.9 561.7C311.2 551.9 294.6 543.1 281.8 526.4C269.1 509.8 266.2 471.6 252.5 461.8C238.7 452 214.2 474.5 199.6 467.6C184.9 460.8 172.1 440.2 164.3 420.6C156.4 401 142.7 362.8 152.5 350.1Z" fill="#ea342a" filter="url(#b16)"/><path d="M105.8 377.4L99.6 365.4L97.6 344.9L93.4 320.2L85.2 303.7L89.3 285.2L107.8 279L124.3 281.1L140.8 270.8L153.1 268.7L165.5 274.9L175.7 264.6L186 279L206.6 281.1L210.7 270.8L221 262.6L225.1 242L227.2 223.5L210.7 219.4L212.8 200.8L206.6 190.6L194.3 176.2L184 163.8L188.1 139.1L288.9 128.8L295.1 145.3L313.6 139.1L330 149.4L350.6 153.5L356.8 172L379.4 165.9L395.9 170L420.6 147.3L437 137.1L467.9 120.6L472 110.3L498.7 106.2L519.3 106.2L523.4 118.5L535.8 124.7L539.9 135L566.6 139.1L576.9 157.6L583.1 176.2L593.4 188.5L599.5 205L613.9 223.5L605.7 235.8L595.4 242L589.3 258.4L593.4 274.9L581 291.4L579 316L581 340.7L585.1 361.3L581 373.9L581 390.3L579 410.9L576.9 427.3L566.6 439.7L556.3 452L544 468.5L539.9 485L533.7 501.4L523.4 517.9L519.3 534.3L502.8 546.7L486.4 554.9L469.9 557L453.5 567.2L432.9 575.5L420.6 587.8L418.5 608.4L408.2 618.7L395.9 620.7L385.6 614.6L381.5 626.9L367.1 633.1L354.7 639.3L363 626.9L354.7 620.7L358.8 614.6L373.2 612.5L363 596L354.7 583.7L338.3 589.9L323.9 602.2L313.6 596L293 594L280.7 585.8L260.1 583.7L245.7 575.5L243.6 563.1L253.9 550.8L249.8 530.2L241.6 513.8L245.7 497.3L235.4 482.9L218.9 482.9L202.5 493.2L202.5 509.6L192.2 519.9L179.9 509.6L167.5 497.3L155.2 476.7L142.8 452L132.5 427.3L120.2 402.7L107.8 382.1ZM421.4 283.1L437 277L465.8 274.1L467.9 283.1L465 301.6L457.6 287.2L439.1 289.3L428.8 302.9L421.4 295.5ZM494.6 270.8L504.9 264.6L509 279L519.3 283.1L521.4 301.6L509 291.4L498.7 291.4ZM527.5 305.8L544 287.2L554.3 295.5L574.9 297.5L576.9 316L566.6 328.4L548.1 324.3L539.9 318.1ZM502.8 219.4L511.1 221.4L517.3 237.9L531.7 235.8L544 239.9L539.9 258.4L527.5 256.4L519.3 246.1L509 233.8ZM511.1 174.1L519.3 161.7L527.5 176.2L523.4 192.6L513.1 190.6ZM552.2 170L570.7 174.1L570.7 200.8L562.5 194.7L552.2 184.4Z" fill="none" stroke="#5e100c" stroke-width="14" opacity="0.55" filter="url(#b3)"/></g></g>
<path d="M1166.8 978.3H1425.3" stroke="#8c8c8c" stroke-width="9.5" fill="none"/><path d="M1498 941.6L1525.7 996.6H1470Z" fill="#8c8c8c"/><text x="1494.4" y="926.3" font-size="35" font-weight="bold" text-anchor="middle" fill="#8c8c8c">N</text><text x="1273.3" y="1026" font-size="37" text-anchor="middle" fill="#999" textLength="84" lengthAdjust="spacingAndGlyphs">10 m</text>
</g>
</g>
<rect x="373.3" y="3002.6" width="1554.1" height="1035.2" fill="none" stroke="#000" stroke-width="3"/>
<path d="M698.9 4037.8v11.5M1179.4 4037.8v11.5M1659.9 4037.8v11.5M373.3 3012.9h-11.5M373.3 3297.3h-11.5M373.3 3581.7h-11.5M373.3 3866.1h-11.5" stroke="#000" stroke-width="3" fill="none"/>
<text x="346.8" y="3029.9" font-size="47.5" text-anchor="end" fill="#000" stroke="#fff" stroke-width="0.76">33.7022</text>
<text x="346.8" y="3314.3" font-size="47.5" text-anchor="end" fill="#000" stroke="#fff" stroke-width="0.76">33.7021</text>
<text x="346.8" y="3598.7" font-size="47.5" text-anchor="end" fill="#000" stroke="#fff" stroke-width="0.76">33.7020</text>
<text x="346.8" y="3883.1" font-size="47.5" text-anchor="end" fill="#000" stroke="#fff" stroke-width="0.76">33.7019</text>
<text x="698.9" y="4102.3" font-size="47.5" text-anchor="middle" fill="#000" stroke="#fff" stroke-width="0.76">−97.7160</text>
<text x="1179.4" y="4102.3" font-size="47.5" text-anchor="middle" fill="#000" stroke="#fff" stroke-width="0.76">−97.7158</text>
<text x="1659.9" y="4102.3" font-size="47.5" text-anchor="middle" fill="#000" stroke="#fff" stroke-width="0.76">−97.7156</text>
<text x="1150.8" y="4187.8" font-size="68" text-anchor="middle" fill="#000" stroke="#fff" stroke-width="1.09" textLength="356" lengthAdjust="spacingAndGlyphs">Longitude</text>
<text x="140.3" y="3518.2" font-size="68" text-anchor="middle" fill="#000" stroke="#fff" stroke-width="1.09" textLength="287" lengthAdjust="spacingAndGlyphs" transform="rotate(-90 140.3 3518.2)">Latitude</text>
<text x="13" y="2883" font-size="111" text-anchor="start" fill="#000" stroke="#fff" stroke-width="1.78" textLength="121" lengthAdjust="spacingAndGlyphs">(c)</text>
<rect x="1982.8" y="3002.6" width="36.9" height="1035.2" fill="url(#cbc)" stroke="#000" stroke-width="3"/>
<text x="2048.2" y="3019.6" font-size="47.5" text-anchor="start" fill="#000" stroke="#fff" stroke-width="0.76">1.00</text><text x="2048.2" y="3389.3" font-size="47.5" text-anchor="start" fill="#000" stroke="#fff" stroke-width="0.76">0.75</text><text x="2048.2" y="3759" font-size="47.5" text-anchor="start" fill="#000" stroke="#fff" stroke-width="0.76">0.50</text><path d="M2019.7 3002.6h17.3M2019.7 3076.5h11.3M2019.7 3150.5h11.3M2019.7 3224.4h11.3M2019.7 3298.4h11.3M2019.7 3372.3h17.3M2019.7 3446.2h11.3M2019.7 3520.2h11.3M2019.7 3594.1h11.3M2019.7 3668.1h11.3M2019.7 3742h17.3M2019.7 3815.9h11.3M2019.7 3889.9h11.3M2019.7 3963.8h11.3M2019.7 4037.8h11.3" stroke="#000" stroke-width="3" fill="none"/>
<text x="2193" y="679.5" font-size="52" text-anchor="middle" fill="#000" stroke="#fff" stroke-width="0.83" textLength="442" lengthAdjust="spacingAndGlyphs" transform="rotate(-90 2193 679.5)">Water Abundance</text>
<text x="2205" y="2103.5" font-size="52" text-anchor="middle" fill="#000" stroke="#fff" stroke-width="0.83" textLength="581" lengthAdjust="spacingAndGlyphs" transform="rotate(-90 2205 2103.5)">Vegetation Abundance</text>
<text x="2207" y="3520.5" font-size="52" text-anchor="middle" fill="#000" stroke="#fff" stroke-width="0.83" textLength="588" lengthAdjust="spacingAndGlyphs" transform="rotate(-90 2207 3520.5)">Rhodamine Abundance</text>
<text x="1891.5" y="1570.8" font-size="47.5" text-anchor="end" fill="#000" stroke="#fff" stroke-width="0.76" textLength="486" lengthAdjust="spacingAndGlyphs">Total Area = 378.6 m²</text>
<text x="1881" y="2995.6" font-size="47.5" text-anchor="end" fill="#000" stroke="#fff" stroke-width="0.76" textLength="476" lengthAdjust="spacingAndGlyphs">Total Area = 255.7 m²</text>
</svg></body></html>
